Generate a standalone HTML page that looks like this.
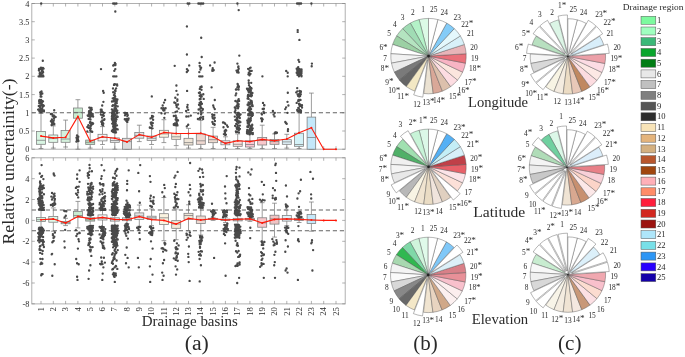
<!DOCTYPE html>
<html><head><meta charset="utf-8"><title>Figure</title>
<style>html,body{margin:0;padding:0;background:#fff;font-family:"Liberation Serif",serif}svg{display:block;will-change:transform;transform:translateZ(0)}</style></head>
<body>
<svg width="685" height="357" viewBox="0 0 685 357">
<rect width="685" height="357" fill="#fff"/>
<rect x="31.8" y="3.5" width="313.4" height="145.7" fill="none" stroke="#a8a8a8" stroke-width="0.9"/>
<text transform="translate(29.4 152.3) scale(1.15 1)" font-size="7.2" text-anchor="end" fill="#2a2a2a" font-family="Liberation Serif, serif">0</text>
<text transform="translate(29.4 134.1) scale(1.15 1)" font-size="7.2" text-anchor="end" fill="#2a2a2a" font-family="Liberation Serif, serif">0.5</text>
<text transform="translate(29.4 115.9) scale(1.15 1)" font-size="7.2" text-anchor="end" fill="#2a2a2a" font-family="Liberation Serif, serif">1</text>
<text transform="translate(29.4 97.6) scale(1.15 1)" font-size="7.2" text-anchor="end" fill="#2a2a2a" font-family="Liberation Serif, serif">1.5</text>
<text transform="translate(29.4 79.4) scale(1.15 1)" font-size="7.2" text-anchor="end" fill="#2a2a2a" font-family="Liberation Serif, serif">2</text>
<text transform="translate(29.4 61.2) scale(1.15 1)" font-size="7.2" text-anchor="end" fill="#2a2a2a" font-family="Liberation Serif, serif">2.5</text>
<text transform="translate(29.4 43.0) scale(1.15 1)" font-size="7.2" text-anchor="end" fill="#2a2a2a" font-family="Liberation Serif, serif">3</text>
<text transform="translate(29.4 24.8) scale(1.15 1)" font-size="7.2" text-anchor="end" fill="#2a2a2a" font-family="Liberation Serif, serif">3.5</text>
<text transform="translate(29.4 6.6) scale(1.15 1)" font-size="7.2" text-anchor="end" fill="#2a2a2a" font-family="Liberation Serif, serif">4</text>
<path d="M41.0 149.2v-3M41.0 3.5v3M53.3 149.2v-3M53.3 3.5v3M65.6 149.2v-3M65.6 3.5v3M77.9 149.2v-3M77.9 3.5v3M90.2 149.2v-3M90.2 3.5v3M102.5 149.2v-3M102.5 3.5v3M114.8 149.2v-3M114.8 3.5v3M127.0 149.2v-3M127.0 3.5v3M139.3 149.2v-3M139.3 3.5v3M151.6 149.2v-3M151.6 3.5v3M163.9 149.2v-3M163.9 3.5v3M176.2 149.2v-3M176.2 3.5v3M188.5 149.2v-3M188.5 3.5v3M200.8 149.2v-3M200.8 3.5v3M213.1 149.2v-3M213.1 3.5v3M225.4 149.2v-3M225.4 3.5v3M237.7 149.2v-3M237.7 3.5v3M249.9 149.2v-3M249.9 3.5v3M262.2 149.2v-3M262.2 3.5v3M274.5 149.2v-3M274.5 3.5v3M286.8 149.2v-3M286.8 3.5v3M299.1 149.2v-3M299.1 3.5v3M311.4 149.2v-3M311.4 3.5v3M323.7 149.2v-3M323.7 3.5v3M336.0 149.2v-3M336.0 3.5v3M31.8 149.2h3M345.2 149.2h-3M31.8 131.0h3M345.2 131.0h-3M31.8 112.8h3M345.2 112.8h-3M31.8 94.6h3M345.2 94.6h-3M31.8 76.3h3M345.2 76.3h-3M31.8 58.1h3M345.2 58.1h-3M31.8 39.9h3M345.2 39.9h-3M31.8 21.7h3M345.2 21.7h-3M31.8 3.5h3M345.2 3.5h-3" stroke="#7d7d7d" stroke-width="0.6" fill="none"/>
<g stroke="#7c7c7c" stroke-width="0.75" fill="none">
<path d="M41.0 113.5V131.4M41.0 144.3V148.5M38.6 113.5h4.8M38.6 148.5h4.8"/>
<rect x="36.5" y="131.4" width="9.0" height="12.9" fill="#d8f5e2"/>
<path d="M36.5 140.3h9.0"/>
</g>
<g stroke="#7c7c7c" stroke-width="0.75" fill="none">
<path d="M53.3 125.9V135.0M53.3 142.3V148.1M50.9 125.9h4.8M50.9 148.1h4.8"/>
<rect x="48.8" y="135.0" width="9.0" height="7.3" fill="#e0f8e8"/>
<path d="M48.8 138.6h9.0"/>
</g>
<g stroke="#7c7c7c" stroke-width="0.75" fill="none">
<path d="M65.6 120.1V130.6M65.6 142.3V147.0M63.2 120.1h4.8M63.2 147.0h4.8"/>
<rect x="61.1" y="130.6" width="9.0" height="11.7" fill="#d4f0dc"/>
<path d="M61.1 139.0h9.0"/>
</g>
<g stroke="#7c7c7c" stroke-width="0.75" fill="none">
<path d="M77.9 99.7V108.0M77.9 118.2V149.2M75.5 99.7h4.8M75.5 149.2h4.8"/>
<rect x="73.4" y="108.0" width="9.0" height="10.2" fill="#c8ecd0"/>
<path d="M73.4 112.4h9.0"/>
</g>
<g stroke="#7c7c7c" stroke-width="0.75" fill="none">
<path d="M90.2 132.4V140.1M90.2 144.5V148.1M87.8 132.4h4.8M87.8 148.1h4.8"/>
<rect x="85.7" y="140.1" width="9.0" height="4.4" fill="#c0e0c4"/>
<path d="M85.7 142.3h9.0"/>
</g>
<g stroke="#7c7c7c" stroke-width="0.75" fill="none">
<path d="M102.5 126.6V134.3M102.5 140.8V144.5M100.1 126.6h4.8M100.1 144.5h4.8"/>
<rect x="98.0" y="134.3" width="9.0" height="6.6" fill="#f4f4f4"/>
<path d="M98.0 137.5h9.0"/>
</g>
<g stroke="#7c7c7c" stroke-width="0.75" fill="none">
<path d="M114.8 132.4V137.9M114.8 142.3V149.2M112.4 132.4h4.8M112.4 149.2h4.8"/>
<rect x="110.3" y="137.9" width="9.0" height="4.4" fill="#ebebeb"/>
<path d="M110.3 140.5h9.0"/>
</g>
<g stroke="#7c7c7c" stroke-width="0.75" fill="none">
<path d="M127.0 120.1V138.3M127.0 149.2V149.2M124.6 120.1h4.8M124.6 149.2h4.8"/>
<rect x="122.5" y="138.3" width="9.0" height="10.9" fill="#dcdcdc"/>
<path d="M122.5 141.6h9.0"/>
</g>
<g stroke="#7c7c7c" stroke-width="0.75" fill="none">
<path d="M139.3 125.2V132.4M139.3 138.3V141.6M136.9 125.2h4.8M136.9 141.6h4.8"/>
<rect x="134.8" y="132.4" width="9.0" height="5.8" fill="#e4e4e4"/>
<path d="M134.8 135.4h9.0"/>
</g>
<g stroke="#7c7c7c" stroke-width="0.75" fill="none">
<path d="M151.6 128.4V136.1M151.6 140.5V144.5M149.2 128.4h4.8M149.2 144.5h4.8"/>
<rect x="147.1" y="136.1" width="9.0" height="4.4" fill="#e6e6e6"/>
<path d="M147.1 138.3h9.0"/>
</g>
<g stroke="#7c7c7c" stroke-width="0.75" fill="none">
<path d="M163.9 119.7V130.3M163.9 137.2V142.6M161.5 119.7h4.8M161.5 142.6h4.8"/>
<rect x="159.4" y="130.3" width="9.0" height="6.9" fill="#faf3e0"/>
<path d="M159.4 133.9h9.0"/>
</g>
<g stroke="#7c7c7c" stroke-width="0.75" fill="none">
<path d="M176.2 124.8V133.5M176.2 139.4V145.6M173.8 124.8h4.8M173.8 145.6h4.8"/>
<rect x="171.7" y="133.5" width="9.0" height="5.8" fill="#f5e8d8"/>
<path d="M171.7 136.8h9.0"/>
</g>
<g stroke="#7c7c7c" stroke-width="0.75" fill="none">
<path d="M188.5 128.4V138.3M188.5 145.0V148.1M186.1 128.4h4.8M186.1 148.1h4.8"/>
<rect x="184.0" y="138.3" width="9.0" height="6.7" fill="#f0e6d8"/>
<path d="M184.0 142.6h9.0"/>
</g>
<g stroke="#7c7c7c" stroke-width="0.75" fill="none">
<path d="M200.8 120.4V133.9M200.8 144.3V148.5M198.4 120.4h4.8M198.4 148.5h4.8"/>
<rect x="196.3" y="133.9" width="9.0" height="10.4" fill="#eed8d0"/>
<path d="M196.3 140.8h9.0"/>
</g>
<g stroke="#7c7c7c" stroke-width="0.75" fill="none">
<path d="M213.1 127.3V136.1M213.1 142.6V148.5M210.7 127.3h4.8M210.7 148.5h4.8"/>
<rect x="208.6" y="136.1" width="9.0" height="6.6" fill="#eedad0"/>
<path d="M208.6 139.7h9.0"/>
</g>
<g stroke="#7c7c7c" stroke-width="0.75" fill="none">
<path d="M225.4 136.8V140.8M225.4 144.8V148.5M223.0 136.8h4.8M223.0 148.5h4.8"/>
<rect x="220.9" y="140.8" width="9.0" height="4.0" fill="#fde8ec"/>
<path d="M220.9 142.6h9.0"/>
</g>
<g stroke="#7c7c7c" stroke-width="0.75" fill="none">
<path d="M237.7 133.9V140.8M237.7 146.3V148.5M235.3 133.9h4.8M235.3 148.5h4.8"/>
<rect x="233.2" y="140.8" width="9.0" height="5.5" fill="#fde0dc"/>
<path d="M233.2 144.3h9.0"/>
</g>
<g stroke="#7c7c7c" stroke-width="0.75" fill="none">
<path d="M249.9 134.6V140.8M249.9 147.0V148.5M247.5 134.6h4.8M247.5 148.5h4.8"/>
<rect x="245.4" y="140.8" width="9.0" height="6.2" fill="#fbc8d4"/>
<path d="M245.4 144.5h9.0"/>
</g>
<g stroke="#7c7c7c" stroke-width="0.75" fill="none">
<path d="M262.2 125.2V137.5M262.2 145.0V148.5M259.8 125.2h4.8M259.8 148.5h4.8"/>
<rect x="257.7" y="137.5" width="9.0" height="7.5" fill="#f8c8cc"/>
<path d="M257.7 140.5h9.0"/>
</g>
<g stroke="#7c7c7c" stroke-width="0.75" fill="none">
<path d="M274.5 133.9V139.4M274.5 144.3V148.5M272.1 133.9h4.8M272.1 148.5h4.8"/>
<rect x="270.0" y="139.4" width="9.0" height="4.9" fill="#f0c4c4"/>
<path d="M270.0 141.6h9.0"/>
</g>
<g stroke="#7c7c7c" stroke-width="0.75" fill="none">
<path d="M286.8 134.3V139.7M286.8 144.3V148.1M284.4 134.3h4.8M284.4 148.1h4.8"/>
<rect x="282.3" y="139.7" width="9.0" height="4.6" fill="#e0f2fa"/>
<path d="M282.3 141.9h9.0"/>
</g>
<g stroke="#7c7c7c" stroke-width="0.75" fill="none">
<path d="M299.1 112.8V133.2M299.1 146.3V148.5M296.7 112.8h4.8M296.7 148.5h4.8"/>
<rect x="294.6" y="133.2" width="9.0" height="13.1" fill="#d4f2f8"/>
<path d="M294.6 144.5h9.0"/>
</g>
<g stroke="#7c7c7c" stroke-width="0.75" fill="none">
<path d="M311.4 93.1V117.1M311.4 149.2V149.2M309.0 93.1h4.8M309.0 149.2h4.8"/>
<rect x="307.1" y="117.1" width="8.6" height="32.1" fill="#c4e8fa"/>
<path d="M307.1 137.5h8.6"/>
</g>
<path d="M31.8 112.8H345.2" stroke="#636363" stroke-width="1.1" stroke-dasharray="4.2 2.8" fill="none"/>
<path d="M39.4 111.3h.01M41.4 110.5h.01M39.8 102.8h.01M40.1 106.1h.01M40.4 109.3h.01M42.6 107.1h.01M41.0 112.2h.01M40.0 105.3h.01M42.6 111.2h.01M43.3 106.1h.01M42.6 104.8h.01M41.0 110.5h.01M43.2 111.4h.01M39.1 101.0h.01M38.8 109.8h.01M43.3 105.8h.01M42.7 110.3h.01M42.0 105.2h.01M43.9 110.5h.01M40.7 101.3h.01M38.7 109.4h.01M42.4 110.8h.01M42.2 109.0h.01M42.0 108.6h.01M43.9 111.4h.01M43.8 105.7h.01M40.0 110.7h.01M43.0 101.3h.01M41.5 103.3h.01M39.2 102.9h.01M40.0 106.2h.01M39.6 101.6h.01M42.9 106.3h.01M41.3 100.4h.01M42.2 102.1h.01M40.1 107.2h.01M39.4 110.9h.01M41.2 105.1h.01M40.8 109.9h.01M38.1 109.6h.01M38.8 106.0h.01M42.5 101.2h.01M40.6 96.6h.01M41.1 99.8h.01M41.4 96.6h.01M40.2 92.5h.01M40.6 94.7h.01M39.5 99.8h.01M42.0 93.6h.01M40.7 94.7h.01M42.3 93.5h.01M41.5 91.5h.01M38.9 70.4h.01M43.0 75.3h.01M39.0 69.0h.01M39.9 72.7h.01M43.6 68.6h.01M42.9 67.8h.01M42.3 73.0h.01M42.9 71.4h.01M39.7 73.6h.01M40.6 73.9h.01M43.1 72.2h.01M41.7 67.8h.01M41.8 71.1h.01M39.9 74.6h.01M40.8 68.2h.01M39.6 68.9h.01M41.2 74.7h.01M42.3 69.6h.01M41.0 67.7h.01M41.5 73.3h.01M39.7 75.4h.01M41.3 68.9h.01M40.6 73.1h.01M41.6 69.4h.01M42.8 60.7h.01M41.2 3.5h.01M38.6 76.3h.01M40.2 76.3h.01M41.8 76.3h.01M43.4 76.3h.01M52.4 124.5h.01M51.6 125.0h.01M53.1 121.4h.01M54.3 123.9h.01M54.1 118.6h.01M53.3 122.1h.01M51.9 119.3h.01M55.6 116.9h.01M53.3 115.7h.01M53.4 121.1h.01M54.1 116.9h.01M52.7 115.7h.01M50.9 121.2h.01M52.3 122.8h.01M53.7 120.6h.01M51.9 113.9h.01M53.7 124.4h.01M51.1 121.3h.01M52.7 116.3h.01M50.9 114.0h.01M53.7 115.3h.01M54.2 116.2h.01M52.1 123.0h.01M53.5 116.2h.01M54.2 110.2h.01M78.4 141.0h.01M76.4 141.6h.01M78.3 136.7h.01M78.0 139.1h.01M76.5 137.7h.01M76.9 139.8h.01M77.7 139.9h.01M77.7 139.4h.01M77.0 135.5h.01M88.7 118.9h.01M90.2 107.8h.01M90.1 128.6h.01M93.1 123.5h.01M91.1 125.6h.01M90.7 128.5h.01M90.2 130.5h.01M92.0 123.0h.01M88.3 127.5h.01M90.5 119.4h.01M92.7 114.0h.01M88.4 125.1h.01M89.6 113.1h.01M90.8 131.1h.01M87.7 115.3h.01M90.4 116.0h.01M90.9 110.7h.01M89.0 111.2h.01M91.0 116.3h.01M91.3 115.3h.01M90.4 116.8h.01M90.3 110.2h.01M92.6 115.1h.01M87.9 115.7h.01M90.9 116.3h.01M89.3 107.6h.01M90.2 117.1h.01M88.9 127.9h.01M88.7 118.8h.01M90.4 113.7h.01M90.3 110.4h.01M92.2 131.7h.01M90.2 122.0h.01M87.3 131.5h.01M91.4 123.0h.01M91.3 113.4h.01M93.1 116.5h.01M89.0 116.1h.01M91.1 112.8h.01M91.8 109.6h.01M90.7 122.6h.01M89.2 113.0h.01M89.9 122.8h.01M92.6 124.1h.01M88.8 114.5h.01M89.1 114.4h.01M91.5 107.9h.01M87.4 127.0h.01M91.1 124.1h.01M90.4 126.2h.01M103.8 113.0h.01M103.3 123.6h.01M102.8 123.0h.01M104.4 119.2h.01M102.5 114.9h.01M101.1 111.9h.01M102.1 123.1h.01M103.3 115.1h.01M102.5 122.5h.01M102.1 117.5h.01M102.3 120.5h.01M103.0 124.9h.01M102.0 124.4h.01M104.2 119.7h.01M103.0 125.3h.01M102.2 123.5h.01M100.9 114.6h.01M100.5 112.3h.01M101.3 121.7h.01M102.1 111.4h.01M100.8 109.7h.01M102.4 111.9h.01M103.8 115.8h.01M101.6 109.7h.01M102.2 105.5h.01M103.4 101.8h.01M103.7 92.7h.01M103.1 90.9h.01M101.0 69.1h.01M111.9 116.7h.01M112.2 123.6h.01M116.8 103.0h.01M114.2 99.0h.01M113.9 127.9h.01M115.2 129.3h.01M113.0 105.1h.01M112.7 120.8h.01M115.7 109.1h.01M117.3 110.6h.01M111.9 118.6h.01M114.3 109.7h.01M115.1 128.2h.01M115.1 121.9h.01M115.5 125.0h.01M117.1 112.6h.01M114.7 126.1h.01M115.6 99.2h.01M112.0 119.4h.01M115.7 123.2h.01M114.7 98.9h.01M111.9 109.4h.01M114.8 131.4h.01M115.7 131.8h.01M113.8 111.5h.01M113.7 113.6h.01M114.4 109.5h.01M115.5 122.7h.01M112.7 114.6h.01M115.0 111.1h.01M113.9 124.4h.01M116.0 108.5h.01M113.4 124.4h.01M113.9 112.7h.01M115.3 110.4h.01M114.3 124.5h.01M112.7 129.6h.01M114.1 122.2h.01M115.6 109.2h.01M116.8 101.1h.01M117.2 113.3h.01M113.3 132.1h.01M113.2 120.5h.01M115.9 121.1h.01M115.1 126.7h.01M115.9 118.0h.01M115.3 115.6h.01M115.1 101.1h.01M115.1 118.3h.01M115.7 129.7h.01M114.9 98.9h.01M114.8 109.5h.01M112.0 101.5h.01M114.5 108.2h.01M114.6 105.6h.01M115.7 111.1h.01M114.2 131.3h.01M114.7 110.1h.01M116.2 119.7h.01M115.5 128.1h.01M117.7 116.8h.01M115.5 103.5h.01M114.4 129.6h.01M112.9 119.7h.01M113.7 118.1h.01M117.5 116.9h.01M114.1 115.0h.01M115.8 110.5h.01M112.4 105.9h.01M115.6 132.2h.01M114.1 131.5h.01M114.7 130.4h.01M117.7 106.3h.01M114.9 118.7h.01M115.3 107.5h.01M114.4 126.8h.01M115.0 125.2h.01M117.4 99.4h.01M115.1 123.6h.01M113.8 100.6h.01M112.8 123.6h.01M112.7 98.3h.01M115.3 126.6h.01M117.0 125.3h.01M116.4 128.9h.01M115.3 115.4h.01M113.2 126.7h.01M112.1 115.2h.01M114.0 127.1h.01M113.9 113.4h.01M115.2 118.9h.01M116.9 112.5h.01M115.2 104.5h.01M114.6 99.3h.01M112.9 111.0h.01M113.8 116.7h.01M114.6 113.7h.01M116.2 110.0h.01M111.9 131.0h.01M114.5 128.7h.01M113.5 125.2h.01M113.7 123.4h.01M113.0 112.0h.01M115.8 119.0h.01M117.3 116.5h.01M113.0 111.3h.01M114.0 112.9h.01M114.3 128.6h.01M112.4 112.0h.01M113.6 110.4h.01M115.4 114.3h.01M115.3 114.4h.01M115.3 103.3h.01M115.5 115.4h.01M116.0 105.6h.01M113.4 101.2h.01M113.6 120.8h.01M115.7 98.8h.01M112.1 113.2h.01M116.5 119.3h.01M113.8 112.0h.01M114.8 132.3h.01M113.0 121.8h.01M114.5 129.3h.01M112.8 114.4h.01M113.2 126.2h.01M115.8 132.5h.01M117.7 129.4h.01M113.8 128.7h.01M114.0 120.6h.01M114.0 84.9h.01M117.2 85.5h.01M113.9 97.9h.01M114.8 93.1h.01M115.7 84.4h.01M113.0 88.4h.01M114.8 95.3h.01M114.4 84.1h.01M116.1 88.4h.01M115.5 90.9h.01M113.2 92.2h.01M117.1 84.3h.01M115.0 90.4h.01M115.2 96.6h.01M113.9 95.1h.01M113.2 76.3h.01M114.8 76.3h.01M116.4 76.3h.01M113.9 65.0h.01M115.4 65.0h.01M113.2 65.5h.01M115.3 69.1h.01M114.9 62.8h.01M115.5 64.0h.01M114.3 70.8h.01M115.3 11.5h.01M113.2 3.5h.01M114.8 3.5h.01M116.4 3.5h.01M126.1 113.7h.01M127.2 113.2h.01M126.4 121.0h.01M127.3 116.1h.01M127.8 115.1h.01M125.3 113.0h.01M128.2 119.4h.01M127.2 119.1h.01M124.8 119.2h.01M124.6 112.8h.01M125.0 115.2h.01M126.9 113.1h.01M126.5 119.0h.01M127.3 121.9h.01M128.6 118.5h.01M127.9 119.7h.01M152.2 125.7h.01M152.8 123.1h.01M149.8 127.5h.01M151.3 122.3h.01M151.4 128.0h.01M152.5 123.0h.01M151.3 124.2h.01M152.1 122.9h.01M152.3 128.3h.01M150.8 122.7h.01M151.4 123.2h.01M153.1 116.5h.01M152.0 116.0h.01M153.1 119.7h.01M150.5 118.4h.01M152.0 117.6h.01M151.8 96.4h.01M161.5 113.3h.01M163.4 108.2h.01M161.5 108.3h.01M163.6 108.3h.01M164.0 109.9h.01M164.3 117.8h.01M161.5 108.1h.01M164.8 113.6h.01M163.5 110.6h.01M164.4 110.4h.01M165.6 108.2h.01M163.2 110.1h.01M162.7 105.5h.01M164.0 102.6h.01M165.1 100.0h.01M178.6 108.6h.01M176.6 105.1h.01M175.0 123.3h.01M175.6 111.8h.01M177.5 119.9h.01M173.8 124.7h.01M178.0 104.5h.01M176.9 123.9h.01M176.3 105.1h.01M176.4 120.1h.01M173.8 116.0h.01M175.6 103.1h.01M176.6 121.5h.01M176.2 125.4h.01M175.7 115.6h.01M176.2 117.4h.01M176.8 123.2h.01M177.1 111.4h.01M176.7 107.0h.01M177.4 125.4h.01M173.8 124.2h.01M175.7 119.5h.01M176.4 117.8h.01M178.0 120.4h.01M174.3 102.5h.01M174.2 125.1h.01M177.3 100.8h.01M176.4 85.5h.01M177.4 99.4h.01M177.7 94.6h.01M176.4 90.8h.01M175.3 97.7h.01M174.7 65.8h.01M188.2 124.7h.01M187.2 106.9h.01M188.4 116.4h.01M188.2 109.8h.01M186.8 126.4h.01M186.3 116.5h.01M187.6 104.8h.01M187.4 107.5h.01M186.1 111.0h.01M190.8 115.6h.01M187.1 90.9h.01M186.8 72.0h.01M188.0 70.5h.01M186.9 69.1h.01M189.2 65.4h.01M186.9 54.5h.01M186.9 26.4h.01M187.7 3.5h.01M189.3 3.5h.01M199.7 99.2h.01M200.8 111.3h.01M198.2 113.3h.01M200.9 101.8h.01M202.5 110.2h.01M201.4 113.3h.01M199.8 88.9h.01M201.6 87.0h.01M201.7 96.6h.01M201.0 117.5h.01M199.6 103.0h.01M200.7 94.5h.01M202.9 109.1h.01M200.8 96.7h.01M199.9 92.3h.01M201.3 107.8h.01M199.0 104.8h.01M201.3 95.5h.01M200.0 117.8h.01M200.6 103.6h.01M201.9 103.7h.01M199.6 109.4h.01M200.2 119.0h.01M200.6 106.1h.01M201.5 89.8h.01M203.3 94.2h.01M198.6 109.5h.01M197.9 119.1h.01M198.9 92.8h.01M201.5 86.5h.01M203.1 118.9h.01M200.0 105.0h.01M203.1 116.8h.01M203.7 98.9h.01M200.6 98.9h.01M201.1 114.4h.01M199.8 118.4h.01M197.9 118.9h.01M200.5 108.2h.01M199.7 95.7h.01M200.3 87.1h.01M200.5 106.5h.01M199.2 76.3h.01M200.8 76.3h.01M202.4 76.3h.01M200.4 67.6h.01M201.1 67.7h.01M199.3 72.1h.01M199.7 65.8h.01M200.8 67.8h.01M200.4 69.6h.01M199.6 62.9h.01M201.7 57.0h.01M201.2 37.7h.01M198.4 3.5h.01M200.0 3.5h.01M201.6 3.5h.01M203.2 3.5h.01M214.5 124.7h.01M212.6 115.4h.01M214.7 124.4h.01M212.4 122.0h.01M214.9 121.0h.01M214.0 123.8h.01M212.2 114.3h.01M212.4 116.8h.01M213.3 118.3h.01M212.8 118.3h.01M213.0 123.7h.01M214.7 117.7h.01M214.3 115.0h.01M214.1 118.8h.01M214.8 109.1h.01M213.8 107.3h.01M213.2 105.5h.01M214.8 100.0h.01M211.6 87.3h.01M213.7 70.1h.01M212.7 68.2h.01M213.3 70.5h.01M212.4 69.9h.01M212.3 70.7h.01M210.1 65.4h.01M214.6 62.5h.01M227.0 125.4h.01M224.7 131.5h.01M225.0 123.3h.01M223.5 127.2h.01M223.9 134.1h.01M227.8 126.8h.01M225.3 135.1h.01M225.9 134.6h.01M226.2 130.6h.01M224.8 130.6h.01M225.2 123.8h.01M225.7 130.0h.01M223.9 122.6h.01M225.0 132.9h.01M223.0 122.5h.01M235.4 120.0h.01M237.1 117.4h.01M237.5 114.5h.01M237.6 106.8h.01M238.6 104.2h.01M236.7 127.4h.01M238.7 112.9h.01M239.7 115.2h.01M235.9 119.9h.01M238.2 104.6h.01M237.9 113.0h.01M237.6 102.9h.01M237.8 127.1h.01M234.8 107.5h.01M234.8 111.9h.01M235.9 131.3h.01M239.0 116.4h.01M238.5 121.5h.01M236.6 106.0h.01M238.6 122.7h.01M237.4 102.3h.01M239.9 128.8h.01M238.7 129.9h.01M235.1 125.8h.01M239.8 125.6h.01M236.1 132.1h.01M237.4 102.0h.01M239.5 121.3h.01M238.0 108.3h.01M239.8 118.0h.01M237.2 115.2h.01M237.6 125.1h.01M236.8 114.4h.01M237.0 118.1h.01M238.6 106.5h.01M237.1 121.4h.01M236.9 128.7h.01M240.4 122.1h.01M239.0 113.5h.01M238.9 132.4h.01M235.4 110.2h.01M236.9 105.5h.01M236.2 123.8h.01M240.6 114.3h.01M238.9 128.0h.01M237.3 131.8h.01M237.9 122.6h.01M237.8 127.3h.01M239.1 129.7h.01M234.8 116.6h.01M235.3 112.6h.01M237.4 119.8h.01M237.4 129.0h.01M235.7 108.3h.01M237.9 117.4h.01M237.8 100.5h.01M235.6 95.3h.01M239.1 100.9h.01M238.7 99.1h.01M235.4 101.0h.01M237.4 87.4h.01M236.2 93.4h.01M237.8 86.7h.01M238.6 87.8h.01M237.8 84.5h.01M238.9 86.4h.01M237.6 83.9h.01M236.4 89.6h.01M238.6 89.6h.01M235.9 89.5h.01M237.2 72.2h.01M238.6 72.6h.01M238.2 71.8h.01M238.7 68.7h.01M238.0 70.2h.01M238.2 67.0h.01M238.4 66.7h.01M236.5 70.6h.01M237.7 70.7h.01M238.4 66.3h.01M237.4 63.6h.01M239.3 55.6h.01M238.7 10.1h.01M237.4 3.5h.01M249.7 111.0h.01M248.6 123.8h.01M248.0 110.0h.01M249.6 111.1h.01M248.7 125.8h.01M251.5 88.4h.01M248.2 115.0h.01M250.6 118.5h.01M249.5 95.7h.01M251.7 101.2h.01M250.4 106.6h.01M248.8 92.3h.01M252.4 93.0h.01M247.0 131.9h.01M250.8 131.8h.01M247.0 88.7h.01M249.1 130.8h.01M249.7 113.8h.01M247.3 129.8h.01M247.0 133.3h.01M252.0 115.9h.01M248.0 90.4h.01M249.5 119.9h.01M250.8 120.4h.01M247.8 123.4h.01M252.1 129.9h.01M252.3 105.2h.01M248.1 126.9h.01M250.0 130.5h.01M247.4 133.5h.01M252.2 125.0h.01M251.6 127.4h.01M251.4 94.7h.01M248.7 108.5h.01M251.4 113.1h.01M250.6 91.9h.01M251.8 128.7h.01M249.5 115.4h.01M252.8 115.0h.01M248.4 88.9h.01M248.6 118.4h.01M247.5 126.9h.01M249.8 125.6h.01M252.8 113.3h.01M250.6 95.7h.01M250.0 121.5h.01M249.6 111.6h.01M249.2 122.1h.01M248.0 104.6h.01M248.6 102.4h.01M250.8 133.3h.01M250.8 90.3h.01M251.2 96.3h.01M247.6 104.7h.01M249.7 129.6h.01M251.1 127.5h.01M251.1 87.8h.01M252.2 125.3h.01M248.9 109.9h.01M249.3 121.2h.01M247.7 122.3h.01M247.1 131.1h.01M249.1 124.0h.01M252.7 106.1h.01M249.5 120.3h.01M248.4 105.3h.01M250.7 111.6h.01M249.8 104.1h.01M252.8 134.1h.01M248.6 132.1h.01M251.5 115.5h.01M252.8 132.9h.01M247.8 96.1h.01M250.4 128.7h.01M247.9 120.2h.01M251.7 126.5h.01M252.3 105.0h.01M247.4 126.5h.01M248.0 90.2h.01M252.2 112.7h.01M250.8 91.1h.01M251.8 102.2h.01M249.8 107.2h.01M250.4 106.9h.01M248.6 98.8h.01M251.9 103.0h.01M252.0 104.8h.01M250.7 94.0h.01M250.5 100.3h.01M248.9 91.7h.01M249.6 133.9h.01M251.2 101.6h.01M250.2 89.1h.01M249.9 128.4h.01M249.6 134.2h.01M252.7 128.3h.01M249.9 120.4h.01M248.4 121.6h.01M248.3 115.3h.01M251.3 126.2h.01M249.8 111.7h.01M251.1 109.1h.01M248.9 110.6h.01M248.3 88.6h.01M250.8 118.0h.01M248.9 89.0h.01M247.6 98.5h.01M247.3 120.5h.01M250.7 118.8h.01M250.0 108.4h.01M250.7 102.4h.01M248.1 97.0h.01M248.4 113.8h.01M252.2 124.7h.01M249.7 91.2h.01M248.1 94.8h.01M249.1 108.1h.01M249.8 109.8h.01M251.9 95.5h.01M251.7 126.1h.01M249.0 85.2h.01M250.1 86.9h.01M251.2 82.8h.01M248.7 80.5h.01M248.8 82.9h.01M250.1 67.8h.01M248.8 72.6h.01M250.4 71.1h.01M249.8 74.5h.01M250.6 67.6h.01M249.7 70.7h.01M248.4 74.3h.01M249.5 75.3h.01M250.5 73.8h.01M249.6 70.4h.01M248.1 68.8h.01M251.7 70.8h.01M264.1 113.0h.01M261.9 118.5h.01M262.7 108.9h.01M264.1 105.2h.01M261.9 121.2h.01M263.9 108.7h.01M263.0 102.9h.01M262.7 119.3h.01M263.6 111.7h.01M261.1 118.3h.01M264.4 105.2h.01M261.9 114.4h.01M261.5 113.5h.01M261.9 119.4h.01M262.4 76.3h.01M274.7 133.2h.01M275.3 132.3h.01M276.9 132.7h.01M275.9 132.9h.01M275.7 132.6h.01M275.9 132.4h.01M274.5 116.4h.01M274.8 112.8h.01M272.9 111.0h.01M273.6 114.6h.01M287.9 131.0h.01M288.0 129.2h.01M286.7 123.7h.01M285.9 123.0h.01M285.3 121.9h.01M287.5 112.8h.01M285.2 109.1h.01M286.1 107.3h.01M288.4 105.5h.01M287.5 101.8h.01M287.8 92.7h.01M287.7 76.3h.01M287.7 72.7h.01M286.2 70.9h.01M299.9 110.7h.01M299.1 96.5h.01M296.7 102.9h.01M300.1 104.3h.01M296.2 92.3h.01M299.7 100.0h.01M299.9 91.6h.01M297.2 88.1h.01M299.6 91.0h.01M298.2 100.9h.01M300.8 94.2h.01M297.3 91.3h.01M300.1 96.1h.01M299.9 94.8h.01M299.1 103.6h.01M300.6 110.1h.01M298.8 96.1h.01M300.9 91.3h.01M297.6 94.3h.01M297.6 110.9h.01M298.5 99.9h.01M298.7 108.1h.01M299.1 104.4h.01M300.4 92.1h.01M297.2 109.9h.01M300.5 99.9h.01M299.4 94.5h.01M298.0 95.8h.01M302.0 107.5h.01M300.3 110.1h.01M299.2 100.5h.01M299.3 93.8h.01M298.7 111.6h.01M302.0 105.2h.01M299.8 106.0h.01M300.2 110.9h.01M300.8 91.9h.01M300.8 112.4h.01M298.3 107.8h.01M301.0 105.9h.01M301.0 110.9h.01M298.8 108.5h.01M298.6 71.9h.01M298.6 72.8h.01M300.9 73.5h.01M299.6 70.6h.01M301.5 75.5h.01M299.2 69.0h.01M299.6 69.6h.01M297.7 68.9h.01M297.9 73.4h.01M301.5 69.3h.01M301.5 71.5h.01M298.5 74.3h.01M298.9 76.3h.01M299.5 73.3h.01M298.0 69.9h.01M301.5 76.3h.01M298.9 70.8h.01M299.7 74.0h.01M298.4 69.6h.01M301.0 75.0h.01M297.2 72.5h.01M300.3 74.4h.01M298.3 72.9h.01M300.0 71.8h.01M296.7 72.7h.01M297.9 69.7h.01M298.5 72.5h.01M298.4 72.0h.01M301.5 73.0h.01M299.2 74.9h.01M297.3 72.5h.01M298.9 71.7h.01M297.8 68.4h.01M297.3 70.6h.01M301.5 69.6h.01M301.5 70.2h.01M299.6 69.1h.01M297.4 74.8h.01M297.4 73.0h.01M298.7 73.7h.01M296.7 68.7h.01M300.3 75.1h.01M297.9 70.8h.01M298.5 72.8h.01M299.3 72.7h.01M299.8 73.8h.01M298.9 75.1h.01M299.2 70.7h.01M298.2 67.2h.01M299.2 61.8h.01M298.5 60.0h.01M299.4 39.9h.01M297.7 31.9h.01M297.7 30.1h.01M297.1 3.5h.01M298.1 3.5h.01M299.1 3.5h.01M300.1 3.5h.01M301.1 3.5h.01M311.7 66.2h.01M311.9 63.6h.01M311.4 3.5h.01" stroke="#3f3f3f" stroke-opacity="0.95" stroke-width="2.35" stroke-linecap="round" fill="none"/>
<polyline points="41.0,136.1 53.3,137.9 65.6,137.2 77.9,116.4 90.2,141.2 102.5,136.8 114.8,138.3 127.0,141.9 139.3,134.6 151.6,137.2 163.9,132.4 176.2,133.5 188.5,133.5 200.8,133.2 213.1,136.8 225.4,143.4 237.7,140.8 249.9,141.6 262.2,139.4 274.5,140.8 286.8,139.0 299.1,132.8 311.4,127.7 323.7,149.2 336.0,149.2" fill="none" stroke="#ff1a0a" stroke-width="1.1" stroke-linejoin="round"/>
<path d="M41.0 136.1h.01M53.3 137.9h.01M65.6 137.2h.01M77.9 116.4h.01M90.2 141.2h.01M102.5 136.8h.01M114.8 138.3h.01M127.0 141.9h.01M139.3 134.6h.01M151.6 137.2h.01M163.9 132.4h.01M176.2 133.5h.01M188.5 133.5h.01M200.8 133.2h.01M213.1 136.8h.01M225.4 143.4h.01M237.7 140.8h.01M249.9 141.6h.01M262.2 139.4h.01M274.5 140.8h.01M286.8 139.0h.01M299.1 132.8h.01M311.4 127.7h.01M323.7 149.2h.01M336.0 149.2h.01" stroke="#ff1a0a" stroke-width="2" stroke-linecap="round"/>
<rect x="31.8" y="157.8" width="313.4" height="146.1" fill="none" stroke="#a8a8a8" stroke-width="0.9"/>
<text transform="translate(29.4 306.9) scale(1.15 1)" font-size="7.2" text-anchor="end" fill="#2a2a2a" font-family="Liberation Serif, serif">-8</text>
<text transform="translate(29.4 286.1) scale(1.15 1)" font-size="7.2" text-anchor="end" fill="#2a2a2a" font-family="Liberation Serif, serif">-6</text>
<text transform="translate(29.4 265.2) scale(1.15 1)" font-size="7.2" text-anchor="end" fill="#2a2a2a" font-family="Liberation Serif, serif">-4</text>
<text transform="translate(29.4 244.3) scale(1.15 1)" font-size="7.2" text-anchor="end" fill="#2a2a2a" font-family="Liberation Serif, serif">-2</text>
<text transform="translate(29.4 223.5) scale(1.15 1)" font-size="7.2" text-anchor="end" fill="#2a2a2a" font-family="Liberation Serif, serif">0</text>
<text transform="translate(29.4 202.6) scale(1.15 1)" font-size="7.2" text-anchor="end" fill="#2a2a2a" font-family="Liberation Serif, serif">2</text>
<text transform="translate(29.4 181.8) scale(1.15 1)" font-size="7.2" text-anchor="end" fill="#2a2a2a" font-family="Liberation Serif, serif">4</text>
<text transform="translate(29.4 160.9) scale(1.15 1)" font-size="7.2" text-anchor="end" fill="#2a2a2a" font-family="Liberation Serif, serif">6</text>
<path d="M41.0 303.9v-3M41.0 157.8v3M53.3 303.9v-3M53.3 157.8v3M65.6 303.9v-3M65.6 157.8v3M77.9 303.9v-3M77.9 157.8v3M90.2 303.9v-3M90.2 157.8v3M102.5 303.9v-3M102.5 157.8v3M114.8 303.9v-3M114.8 157.8v3M127.0 303.9v-3M127.0 157.8v3M139.3 303.9v-3M139.3 157.8v3M151.6 303.9v-3M151.6 157.8v3M163.9 303.9v-3M163.9 157.8v3M176.2 303.9v-3M176.2 157.8v3M188.5 303.9v-3M188.5 157.8v3M200.8 303.9v-3M200.8 157.8v3M213.1 303.9v-3M213.1 157.8v3M225.4 303.9v-3M225.4 157.8v3M237.7 303.9v-3M237.7 157.8v3M249.9 303.9v-3M249.9 157.8v3M262.2 303.9v-3M262.2 157.8v3M274.5 303.9v-3M274.5 157.8v3M286.8 303.9v-3M286.8 157.8v3M299.1 303.9v-3M299.1 157.8v3M311.4 303.9v-3M311.4 157.8v3M323.7 303.9v-3M323.7 157.8v3M336.0 303.9v-3M336.0 157.8v3M31.8 303.8h3M345.2 303.8h-3M31.8 283.0h3M345.2 283.0h-3M31.8 262.1h3M345.2 262.1h-3M31.8 241.3h3M345.2 241.3h-3M31.8 220.4h3M345.2 220.4h-3M31.8 199.5h3M345.2 199.5h-3M31.8 178.7h3M345.2 178.7h-3M31.8 157.8h3M345.2 157.8h-3" stroke="#7d7d7d" stroke-width="0.6" fill="none"/>
<g stroke="#7c7c7c" stroke-width="0.75" fill="none">
<path d="M41.0 210.4V217.6M41.0 221.5V227.7M38.6 210.4h4.8M38.6 227.7h4.8"/>
<rect x="36.5" y="217.6" width="9.0" height="4.0" fill="#d8f5e2"/>
<path d="M36.5 219.6h9.0"/>
</g>
<g stroke="#7c7c7c" stroke-width="0.75" fill="none">
<path d="M53.3 207.9V216.4M53.3 222.3V231.2M50.9 207.9h4.8M50.9 231.2h4.8"/>
<rect x="48.8" y="216.4" width="9.0" height="5.8" fill="#e0f8e8"/>
<path d="M48.8 219.4h9.0"/>
</g>
<g stroke="#7c7c7c" stroke-width="0.75" fill="none">
<path d="M65.6 218.3V221.5M65.6 223.8V225.6M63.2 218.3h4.8M63.2 225.6h4.8"/>
<rect x="61.1" y="221.5" width="9.0" height="2.3" fill="#d4f0dc"/>
<path d="M61.1 222.7h9.0"/>
</g>
<g stroke="#7c7c7c" stroke-width="0.75" fill="none">
<path d="M77.9 201.4V211.5M77.9 217.4V227.9M75.5 201.4h4.8M75.5 227.9h4.8"/>
<rect x="73.4" y="211.5" width="9.0" height="5.8" fill="#c8ecd0"/>
<path d="M73.4 215.5h9.0"/>
</g>
<g stroke="#7c7c7c" stroke-width="0.75" fill="none">
<path d="M90.2 215.2V217.8M90.2 221.1V225.6M87.8 215.2h4.8M87.8 225.6h4.8"/>
<rect x="85.7" y="217.8" width="9.0" height="3.3" fill="#c0e0c4"/>
<path d="M85.7 219.8h9.0"/>
</g>
<g stroke="#7c7c7c" stroke-width="0.75" fill="none">
<path d="M102.5 207.9V214.9M102.5 220.0V226.7M100.1 207.9h4.8M100.1 226.7h4.8"/>
<rect x="98.0" y="214.9" width="9.0" height="5.1" fill="#f4f4f4"/>
<path d="M98.0 218.3h9.0"/>
</g>
<g stroke="#7c7c7c" stroke-width="0.75" fill="none">
<path d="M114.8 215.2V217.8M114.8 221.1V225.6M112.4 215.2h4.8M112.4 225.6h4.8"/>
<rect x="110.3" y="217.8" width="9.0" height="3.3" fill="#ebebeb"/>
<path d="M110.3 219.6h9.0"/>
</g>
<g stroke="#7c7c7c" stroke-width="0.75" fill="none">
<path d="M127.0 215.2V217.8M127.0 220.7V223.5M124.6 215.2h4.8M124.6 223.5h4.8"/>
<rect x="122.5" y="217.8" width="9.0" height="2.9" fill="#dcdcdc"/>
<path d="M122.5 219.4h9.0"/>
</g>
<g stroke="#7c7c7c" stroke-width="0.75" fill="none">
<path d="M139.3 205.0V212.9M139.3 219.4V226.3M136.9 205.0h4.8M136.9 226.3h4.8"/>
<rect x="134.8" y="212.9" width="9.0" height="6.5" fill="#e4e4e4"/>
<path d="M134.8 216.0h9.0"/>
</g>
<g stroke="#7c7c7c" stroke-width="0.75" fill="none">
<path d="M151.6 208.9V216.2M151.6 219.4V225.6M149.2 208.9h4.8M149.2 225.6h4.8"/>
<rect x="147.1" y="216.2" width="9.0" height="3.1" fill="#e6e6e6"/>
<path d="M147.1 217.8h9.0"/>
</g>
<g stroke="#7c7c7c" stroke-width="0.75" fill="none">
<path d="M163.9 197.5V213.7M163.9 224.6V240.7M161.5 197.5h4.8M161.5 240.7h4.8"/>
<rect x="159.4" y="213.7" width="9.0" height="10.8" fill="#faf3e0"/>
<path d="M159.4 217.8h9.0"/>
</g>
<g stroke="#7c7c7c" stroke-width="0.75" fill="none">
<path d="M176.2 208.9V220.7M176.2 228.3V239.7M173.8 208.9h4.8M173.8 239.7h4.8"/>
<rect x="171.7" y="220.7" width="9.0" height="7.6" fill="#f5e8d8"/>
<path d="M171.7 224.1h9.0"/>
</g>
<g stroke="#7c7c7c" stroke-width="0.75" fill="none">
<path d="M188.5 204.8V213.3M188.5 219.4V230.8M186.1 204.8h4.8M186.1 230.8h4.8"/>
<rect x="184.0" y="213.3" width="9.0" height="6.0" fill="#f0e6d8"/>
<path d="M184.0 215.5h9.0"/>
</g>
<g stroke="#7c7c7c" stroke-width="0.75" fill="none">
<path d="M200.8 207.9V216.0M200.8 223.4V235.0M198.4 207.9h4.8M198.4 235.0h4.8"/>
<rect x="196.3" y="216.0" width="9.0" height="7.4" fill="#eed8d0"/>
<path d="M196.3 220.0h9.0"/>
</g>
<g stroke="#7c7c7c" stroke-width="0.75" fill="none">
<path d="M213.1 217.3V218.3M213.1 219.6V220.4M210.7 217.3h4.8M210.7 220.4h4.8"/>
<rect x="208.6" y="218.3" width="9.0" height="1.3" fill="#eedad0"/>
<path d="M208.6 218.9h9.0"/>
</g>
<g stroke="#7c7c7c" stroke-width="0.75" fill="none">
<path d="M225.4 217.3V219.1M225.4 220.6V222.5M223.0 217.3h4.8M223.0 222.5h4.8"/>
<rect x="220.9" y="219.1" width="9.0" height="1.5" fill="#fde8ec"/>
<path d="M220.9 219.9h9.0"/>
</g>
<g stroke="#7c7c7c" stroke-width="0.75" fill="none">
<path d="M237.7 215.2V218.3M237.7 220.9V224.6M235.3 215.2h4.8M235.3 224.6h4.8"/>
<rect x="233.2" y="218.3" width="9.0" height="2.6" fill="#fde0dc"/>
<path d="M233.2 219.9h9.0"/>
</g>
<g stroke="#7c7c7c" stroke-width="0.75" fill="none">
<path d="M249.9 216.7V218.3M249.9 220.1V221.4M247.5 216.7h4.8M247.5 221.4h4.8"/>
<rect x="245.4" y="218.3" width="9.0" height="1.8" fill="#fbc8d4"/>
<path d="M245.4 219.4h9.0"/>
</g>
<g stroke="#7c7c7c" stroke-width="0.75" fill="none">
<path d="M262.2 202.7V217.8M262.2 227.2V241.3M259.8 202.7h4.8M259.8 241.3h4.8"/>
<rect x="257.7" y="217.8" width="9.0" height="9.4" fill="#f8c8cc"/>
<path d="M257.7 222.9h9.0"/>
</g>
<g stroke="#7c7c7c" stroke-width="0.75" fill="none">
<path d="M274.5 203.2V215.2M274.5 224.1V237.1M272.1 203.2h4.8M272.1 237.1h4.8"/>
<rect x="270.0" y="215.2" width="9.0" height="8.9" fill="#f0c4c4"/>
<path d="M270.0 218.9h9.0"/>
</g>
<g stroke="#7c7c7c" stroke-width="0.75" fill="none">
<path d="M286.8 210.0V215.5M286.8 221.1V225.6M284.4 210.0h4.8M284.4 225.6h4.8"/>
<rect x="282.3" y="215.5" width="9.0" height="5.6" fill="#e0f2fa"/>
<path d="M282.3 218.9h9.0"/>
</g>
<g stroke="#7c7c7c" stroke-width="0.75" fill="none">
<path d="M299.1 217.3V218.3M299.1 220.6V222.5M296.7 217.3h4.8M296.7 222.5h4.8"/>
<rect x="294.6" y="218.3" width="9.0" height="2.3" fill="#d4f2f8"/>
<path d="M294.6 219.4h9.0"/>
</g>
<g stroke="#7c7c7c" stroke-width="0.75" fill="none">
<path d="M311.4 202.0V214.5M311.4 223.4V231.2M309.0 202.0h4.8M309.0 231.2h4.8"/>
<rect x="307.1" y="214.5" width="8.6" height="9.0" fill="#c4e8fa"/>
<path d="M307.1 220.0h8.6"/>
</g>
<path d="M31.8 210.0H345.2" stroke="#636363" stroke-width="1.1" stroke-dasharray="4.2 2.8" fill="none"/>
<path d="M31.8 230.8H345.2" stroke="#636363" stroke-width="1.1" stroke-dasharray="4.2 2.8" fill="none"/>
<path d="M42.3 197.9h.01M43.4 185.3h.01M42.8 202.3h.01M40.2 198.0h.01M41.1 202.8h.01M42.1 196.2h.01M40.3 198.4h.01M41.2 196.2h.01M42.4 201.9h.01M39.6 202.3h.01M43.9 209.9h.01M42.1 186.2h.01M42.4 208.0h.01M39.0 209.5h.01M40.7 183.9h.01M43.9 209.9h.01M39.7 200.5h.01M41.3 197.2h.01M38.8 202.7h.01M40.8 201.0h.01M40.8 196.0h.01M39.0 188.3h.01M42.4 186.8h.01M38.9 203.7h.01M41.5 197.9h.01M39.8 194.8h.01M40.5 189.6h.01M40.5 207.7h.01M43.8 207.6h.01M40.5 187.3h.01M41.5 209.8h.01M41.3 205.4h.01M43.9 188.1h.01M40.6 209.4h.01M42.3 197.7h.01M39.7 191.0h.01M40.0 205.6h.01M41.4 205.5h.01M38.6 201.1h.01M39.3 191.4h.01M39.1 198.1h.01M39.7 193.1h.01M40.4 185.0h.01M40.0 194.6h.01M43.7 209.7h.01M43.3 187.7h.01M39.9 186.4h.01M40.8 193.6h.01M40.4 204.2h.01M39.9 205.8h.01M42.7 203.1h.01M42.1 189.2h.01M41.9 204.0h.01M41.1 200.6h.01M41.9 209.9h.01M40.4 206.9h.01M41.0 201.3h.01M42.0 192.4h.01M42.7 207.6h.01M40.7 205.4h.01M40.8 197.8h.01M38.6 203.3h.01M39.7 197.2h.01M40.1 204.3h.01M38.1 199.0h.01M41.4 207.8h.01M43.3 209.0h.01M42.0 204.4h.01M42.1 200.4h.01M39.8 194.3h.01M43.9 194.2h.01M40.0 191.2h.01M39.8 200.8h.01M43.6 204.9h.01M39.8 208.9h.01M41.5 204.1h.01M39.3 204.9h.01M41.3 205.1h.01M42.0 208.0h.01M38.9 201.4h.01M40.2 199.9h.01M41.9 205.9h.01M40.5 204.8h.01M39.6 189.8h.01M40.8 203.0h.01M41.3 176.9h.01M42.1 175.8h.01M40.0 182.7h.01M41.2 176.6h.01M43.4 179.1h.01M40.1 181.3h.01M39.8 173.5h.01M41.6 165.1h.01M43.8 241.7h.01M40.4 236.8h.01M39.0 239.7h.01M42.7 240.8h.01M40.8 236.3h.01M41.4 230.7h.01M39.0 228.6h.01M40.6 229.2h.01M39.0 234.4h.01M43.0 242.6h.01M42.1 230.5h.01M43.3 245.0h.01M43.9 230.6h.01M41.5 235.9h.01M42.0 241.1h.01M39.7 240.0h.01M41.3 227.7h.01M43.1 236.9h.01M39.8 229.0h.01M41.6 232.9h.01M42.4 244.6h.01M40.0 239.9h.01M40.4 228.8h.01M39.7 233.6h.01M42.7 230.3h.01M40.2 236.1h.01M40.2 239.6h.01M43.7 230.3h.01M43.1 232.7h.01M41.3 233.7h.01M40.3 232.6h.01M41.1 231.9h.01M40.2 230.7h.01M38.9 238.4h.01M40.3 234.8h.01M42.9 230.5h.01M41.4 240.7h.01M40.6 229.2h.01M41.0 228.6h.01M41.1 235.8h.01M39.9 236.5h.01M43.1 229.1h.01M41.4 228.2h.01M41.9 227.7h.01M39.9 235.0h.01M42.9 239.9h.01M38.1 233.1h.01M43.9 247.0h.01M39.9 246.5h.01M39.4 242.3h.01M40.5 228.1h.01M40.2 228.2h.01M38.5 236.8h.01M41.9 234.2h.01M40.9 228.3h.01M39.5 227.7h.01M39.0 228.1h.01M43.1 230.3h.01M40.4 245.9h.01M40.1 231.3h.01M39.5 231.6h.01M41.1 240.8h.01M40.5 237.0h.01M41.5 240.4h.01M42.4 231.4h.01M40.2 235.7h.01M41.3 232.5h.01M38.1 240.4h.01M40.8 232.3h.01M38.9 229.2h.01M40.3 258.8h.01M42.5 259.0h.01M41.3 262.6h.01M42.7 250.9h.01M40.6 249.9h.01M40.5 264.1h.01M40.1 252.8h.01M42.2 253.7h.01M40.8 263.9h.01M39.5 249.8h.01M39.6 249.0h.01M42.2 263.5h.01M42.6 274.1h.01M41.7 274.1h.01M41.7 274.4h.01M41.2 275.2h.01M50.9 205.0h.01M52.4 204.3h.01M54.5 193.6h.01M53.7 194.4h.01M51.3 196.6h.01M54.3 204.9h.01M52.9 205.8h.01M54.6 200.5h.01M53.5 197.4h.01M52.9 204.4h.01M52.0 199.5h.01M53.4 197.5h.01M54.9 199.0h.01M53.0 204.0h.01M54.5 202.6h.01M52.0 192.9h.01M54.6 196.0h.01M55.2 204.0h.01M54.5 175.6h.01M53.8 174.5h.01M53.7 173.5h.01M52.3 242.2h.01M53.2 241.2h.01M52.9 235.3h.01M53.5 237.9h.01M54.3 236.7h.01M54.9 232.5h.01M53.7 240.8h.01M52.9 234.1h.01M52.1 253.8h.01M51.7 254.3h.01M54.7 264.2h.01M52.3 275.7h.01M64.6 211.0h.01M64.2 210.8h.01M66.3 211.2h.01M65.8 215.7h.01M64.6 217.3h.01M65.1 229.8h.01M64.4 241.3h.01M64.7 247.5h.01M78.2 197.4h.01M77.2 194.9h.01M75.9 187.9h.01M77.9 190.1h.01M78.7 186.6h.01M76.7 187.0h.01M78.1 192.3h.01M76.0 193.6h.01M79.6 181.8h.01M77.1 178.7h.01M77.2 174.5h.01M79.6 170.3h.01M79.3 232.7h.01M77.3 233.9h.01M75.9 230.1h.01M79.7 233.1h.01M76.4 236.0h.01M78.5 239.2h.01M79.0 241.3h.01M77.9 248.6h.01M76.2 259.0h.01M77.1 263.2h.01M78.7 264.2h.01M77.1 276.7h.01M77.5 279.9h.01M89.8 203.0h.01M87.3 191.8h.01M92.3 213.2h.01M91.8 192.4h.01M90.2 199.1h.01M90.5 185.5h.01M91.2 215.1h.01M91.0 207.8h.01M89.5 214.5h.01M88.4 203.7h.01M90.7 203.7h.01M91.7 208.8h.01M87.9 198.9h.01M90.7 214.9h.01M90.7 213.8h.01M90.7 188.5h.01M91.1 208.1h.01M89.8 187.3h.01M89.2 204.1h.01M90.7 213.5h.01M91.6 209.2h.01M89.4 209.4h.01M91.3 213.6h.01M91.6 182.9h.01M89.8 197.5h.01M93.1 211.5h.01M89.8 190.1h.01M89.1 207.7h.01M90.1 193.7h.01M89.6 213.4h.01M89.9 192.9h.01M88.1 200.2h.01M92.6 208.5h.01M91.8 196.7h.01M88.0 214.6h.01M90.5 207.6h.01M87.5 199.7h.01M90.6 214.4h.01M90.6 183.6h.01M90.1 213.5h.01M90.8 205.4h.01M91.5 205.3h.01M90.2 208.2h.01M88.1 197.3h.01M93.1 186.6h.01M90.4 208.7h.01M91.5 184.0h.01M88.5 213.5h.01M89.4 213.4h.01M89.8 193.9h.01M91.7 190.9h.01M89.7 205.1h.01M89.2 205.0h.01M88.5 212.6h.01M89.1 214.6h.01M87.3 194.5h.01M93.1 210.3h.01M93.1 204.0h.01M89.2 197.3h.01M92.8 211.1h.01M91.2 194.2h.01M90.1 193.0h.01M88.7 188.8h.01M91.4 204.3h.01M88.3 187.5h.01M89.9 210.8h.01M87.9 214.7h.01M88.6 214.1h.01M91.3 215.2h.01M88.1 215.0h.01M91.3 187.5h.01M90.9 198.6h.01M88.8 214.8h.01M90.8 197.4h.01M93.1 208.0h.01M91.5 194.2h.01M89.6 200.4h.01M88.4 194.4h.01M91.0 214.8h.01M88.0 183.8h.01M89.1 200.8h.01M88.7 211.0h.01M90.9 208.2h.01M90.2 215.2h.01M93.1 214.8h.01M90.4 206.3h.01M88.1 198.1h.01M92.0 213.2h.01M90.6 204.0h.01M89.2 209.1h.01M87.3 193.6h.01M91.5 199.3h.01M89.0 190.9h.01M93.1 188.8h.01M87.5 210.2h.01M88.3 214.7h.01M89.6 210.4h.01M90.8 211.8h.01M89.7 215.2h.01M92.5 192.4h.01M89.7 168.2h.01M89.4 171.6h.01M87.8 175.7h.01M89.0 175.1h.01M87.8 173.2h.01M89.5 165.0h.01M89.0 174.9h.01M91.9 171.2h.01M88.6 177.8h.01M89.6 227.3h.01M92.7 227.2h.01M88.7 226.8h.01M90.7 229.0h.01M91.1 229.7h.01M90.1 233.2h.01M91.6 233.6h.01M88.5 228.4h.01M89.8 229.3h.01M90.3 230.8h.01M90.8 234.8h.01M89.9 226.7h.01M90.1 234.3h.01M87.3 228.2h.01M90.3 226.5h.01M91.6 232.5h.01M93.0 225.8h.01M88.3 233.9h.01M89.5 226.2h.01M90.8 230.7h.01M90.7 231.0h.01M90.7 226.4h.01M92.3 229.1h.01M90.9 235.2h.01M91.0 229.0h.01M90.7 226.8h.01M92.8 230.9h.01M92.3 234.4h.01M89.4 229.4h.01M92.0 226.9h.01M90.3 232.4h.01M89.8 230.9h.01M89.0 233.6h.01M87.3 227.0h.01M91.0 232.2h.01M89.7 231.8h.01M91.3 225.8h.01M91.8 228.1h.01M90.4 226.2h.01M91.1 228.3h.01M91.7 231.2h.01M91.2 227.4h.01M88.3 229.2h.01M89.8 228.4h.01M90.0 230.2h.01M92.9 226.1h.01M91.3 230.0h.01M91.5 228.2h.01M92.9 227.8h.01M90.1 233.9h.01M90.0 242.7h.01M90.8 249.9h.01M89.5 242.8h.01M89.3 240.6h.01M91.0 247.2h.01M88.3 245.1h.01M90.6 239.2h.01M88.8 243.2h.01M90.4 251.4h.01M89.7 249.8h.01M90.2 246.7h.01M92.6 247.1h.01M89.3 238.6h.01M90.3 238.3h.01M88.9 244.6h.01M90.3 250.9h.01M91.3 255.9h.01M90.4 265.2h.01M89.1 270.5h.01M88.6 278.8h.01M105.1 208.9h.01M100.9 191.8h.01M102.1 209.7h.01M101.9 191.6h.01M102.9 202.0h.01M100.4 210.0h.01M100.7 204.6h.01M104.5 198.6h.01M103.2 209.3h.01M105.4 209.8h.01M104.7 192.8h.01M102.8 202.1h.01M102.4 194.1h.01M102.6 184.1h.01M103.5 209.1h.01M99.8 202.8h.01M101.0 207.8h.01M104.6 209.9h.01M101.2 205.9h.01M105.1 196.5h.01M99.6 194.4h.01M102.6 201.9h.01M103.5 209.9h.01M103.8 205.9h.01M104.5 198.3h.01M99.6 208.3h.01M104.6 203.6h.01M101.9 206.4h.01M102.6 209.5h.01M102.7 206.3h.01M103.4 184.2h.01M103.4 185.6h.01M103.7 209.5h.01M102.4 203.8h.01M100.9 191.8h.01M102.5 203.3h.01M101.3 199.6h.01M99.9 203.3h.01M102.9 205.0h.01M100.5 184.4h.01M102.4 206.5h.01M101.0 206.2h.01M103.9 197.2h.01M105.0 200.9h.01M104.1 201.6h.01M99.9 183.2h.01M102.7 198.3h.01M102.6 208.3h.01M99.6 204.4h.01M102.4 191.1h.01M104.6 209.6h.01M101.4 200.9h.01M101.3 206.2h.01M105.0 196.3h.01M100.0 190.2h.01M100.6 208.8h.01M101.5 209.7h.01M102.5 198.1h.01M102.6 203.8h.01M101.8 207.4h.01M102.5 189.1h.01M101.4 209.7h.01M101.2 178.7h.01M101.7 176.1h.01M104.2 170.3h.01M101.6 165.1h.01M103.3 234.6h.01M105.3 232.9h.01M104.1 234.2h.01M102.4 228.2h.01M103.3 232.8h.01M103.5 231.7h.01M102.6 227.2h.01M103.8 227.4h.01M101.2 230.8h.01M101.8 227.1h.01M103.4 237.0h.01M102.0 226.8h.01M102.3 235.4h.01M99.6 234.4h.01M103.0 235.0h.01M104.9 235.0h.01M103.6 235.5h.01M103.0 229.7h.01M104.0 236.1h.01M101.5 226.8h.01M104.5 232.0h.01M102.6 226.9h.01M104.7 232.6h.01M104.8 231.9h.01M101.3 230.3h.01M101.7 226.9h.01M102.2 228.6h.01M100.5 227.8h.01M105.3 229.1h.01M101.5 228.1h.01M101.9 228.1h.01M102.8 228.3h.01M102.1 230.5h.01M102.6 234.1h.01M102.4 231.0h.01M102.2 229.2h.01M102.7 229.3h.01M101.1 228.1h.01M101.7 236.5h.01M99.6 226.8h.01M102.9 247.8h.01M102.8 245.7h.01M102.3 238.3h.01M103.3 245.7h.01M100.6 241.5h.01M103.9 247.4h.01M104.4 248.5h.01M100.7 237.9h.01M103.3 242.6h.01M103.3 239.2h.01M102.1 243.6h.01M102.0 242.7h.01M100.1 263.8h.01M102.5 264.1h.01M101.8 261.4h.01M101.8 263.7h.01M100.9 264.3h.01M103.9 257.7h.01M101.2 257.5h.01M103.4 267.3h.01M104.9 262.6h.01M102.7 273.6h.01M102.3 279.9h.01M111.9 206.9h.01M115.8 214.3h.01M113.4 201.6h.01M113.2 209.7h.01M115.7 186.6h.01M117.1 183.5h.01M116.6 198.5h.01M117.4 207.7h.01M115.3 212.0h.01M115.9 204.3h.01M114.2 212.5h.01M115.0 214.3h.01M113.6 213.3h.01M117.1 203.7h.01M111.9 210.4h.01M112.8 183.9h.01M116.1 195.0h.01M117.7 185.8h.01M116.6 184.4h.01M114.0 209.5h.01M115.3 200.6h.01M114.2 205.1h.01M115.6 193.6h.01M112.3 199.2h.01M112.6 213.8h.01M117.0 199.1h.01M114.2 205.7h.01M115.2 201.0h.01M114.8 189.2h.01M114.8 193.8h.01M113.9 205.2h.01M114.3 203.7h.01M115.7 214.8h.01M112.9 207.7h.01M115.4 203.7h.01M113.1 183.1h.01M112.5 212.5h.01M112.6 215.1h.01M115.5 211.8h.01M116.0 186.0h.01M115.3 201.3h.01M115.7 202.0h.01M117.7 189.9h.01M115.9 211.0h.01M114.6 205.3h.01M115.7 185.4h.01M113.0 212.8h.01M111.9 196.1h.01M115.5 190.6h.01M114.6 210.5h.01M114.1 213.1h.01M114.5 206.9h.01M117.7 210.1h.01M115.1 191.2h.01M114.7 185.3h.01M116.2 209.0h.01M115.6 210.9h.01M116.0 212.0h.01M113.8 204.2h.01M111.9 198.8h.01M113.0 196.8h.01M115.9 209.9h.01M115.9 209.0h.01M113.0 189.1h.01M115.3 194.8h.01M115.8 200.3h.01M112.8 195.5h.01M111.9 191.5h.01M115.9 197.4h.01M113.4 209.6h.01M115.5 204.0h.01M117.4 199.9h.01M113.8 192.7h.01M113.8 194.2h.01M113.6 204.4h.01M116.3 192.5h.01M115.8 184.3h.01M116.2 211.9h.01M114.1 213.3h.01M115.2 214.1h.01M115.7 196.7h.01M113.0 193.5h.01M112.1 214.3h.01M115.1 187.4h.01M113.8 203.5h.01M112.5 211.8h.01M113.8 214.7h.01M112.3 192.8h.01M115.7 207.2h.01M114.9 189.1h.01M112.8 185.5h.01M115.0 203.1h.01M116.4 210.5h.01M111.9 204.2h.01M112.7 206.6h.01M112.7 192.6h.01M115.3 203.4h.01M115.3 207.4h.01M113.0 197.1h.01M114.3 209.2h.01M116.2 199.1h.01M117.7 210.5h.01M116.6 187.6h.01M117.2 208.5h.01M117.0 207.9h.01M114.7 212.5h.01M113.2 193.9h.01M115.1 212.8h.01M113.6 189.9h.01M114.9 197.5h.01M115.8 204.6h.01M116.0 193.5h.01M117.7 187.8h.01M115.0 213.6h.01M114.4 184.6h.01M113.8 211.5h.01M117.7 211.4h.01M113.3 214.0h.01M116.8 192.5h.01M113.8 210.4h.01M116.8 208.3h.01M114.6 213.8h.01M115.5 208.0h.01M114.7 214.9h.01M113.5 208.8h.01M112.6 189.7h.01M114.6 195.3h.01M111.9 207.9h.01M113.0 214.4h.01M115.3 214.7h.01M117.7 189.6h.01M115.2 194.9h.01M113.6 211.1h.01M115.5 202.5h.01M113.3 194.9h.01M114.7 193.7h.01M116.4 206.9h.01M112.9 214.6h.01M115.2 186.2h.01M114.9 214.8h.01M115.9 195.8h.01M113.4 184.2h.01M115.2 206.7h.01M116.4 201.4h.01M114.3 209.5h.01M114.3 210.5h.01M115.7 190.7h.01M114.4 209.6h.01M114.1 204.5h.01M113.8 196.8h.01M115.5 200.3h.01M114.1 184.6h.01M112.3 209.6h.01M114.1 193.7h.01M115.3 214.8h.01M117.7 198.2h.01M114.7 214.5h.01M117.1 198.2h.01M115.2 192.8h.01M113.6 182.9h.01M114.6 205.7h.01M114.4 211.6h.01M112.5 193.9h.01M115.1 211.3h.01M115.1 204.0h.01M114.6 207.8h.01M114.4 214.0h.01M115.5 205.8h.01M114.9 208.1h.01M113.9 211.5h.01M117.2 212.7h.01M116.9 189.5h.01M114.3 210.7h.01M114.3 189.8h.01M115.8 192.1h.01M115.6 171.4h.01M117.2 169.0h.01M115.0 178.6h.01M116.5 175.7h.01M116.1 170.6h.01M114.3 181.8h.01M113.0 177.7h.01M114.9 178.1h.01M114.9 173.6h.01M116.6 233.3h.01M113.5 234.8h.01M114.5 232.6h.01M113.7 239.9h.01M115.9 230.3h.01M115.3 235.0h.01M114.4 242.5h.01M117.0 235.4h.01M117.2 226.1h.01M112.8 241.1h.01M111.9 226.8h.01M117.2 226.0h.01M115.8 227.8h.01M114.4 227.6h.01M114.1 243.7h.01M111.9 238.2h.01M114.6 230.6h.01M111.9 225.8h.01M114.8 226.2h.01M116.4 241.6h.01M116.7 239.2h.01M115.2 235.1h.01M116.2 226.0h.01M116.3 236.9h.01M111.9 230.1h.01M114.4 235.7h.01M115.2 225.6h.01M112.7 230.7h.01M115.4 241.4h.01M113.3 235.2h.01M116.8 242.8h.01M116.8 234.8h.01M114.6 245.9h.01M116.9 244.5h.01M115.0 231.2h.01M112.9 234.2h.01M116.7 230.4h.01M113.9 231.8h.01M112.5 241.0h.01M117.7 231.6h.01M117.6 230.3h.01M111.9 226.1h.01M112.9 229.0h.01M116.0 247.4h.01M114.2 243.8h.01M113.7 226.8h.01M115.0 235.7h.01M116.4 226.2h.01M114.4 231.2h.01M115.2 228.3h.01M111.9 241.8h.01M114.6 241.5h.01M113.5 231.0h.01M114.2 225.7h.01M114.6 225.7h.01M114.7 233.9h.01M116.0 242.2h.01M114.3 238.3h.01M113.7 237.0h.01M117.7 239.5h.01M116.9 243.7h.01M117.7 228.5h.01M113.7 228.4h.01M117.4 245.6h.01M114.1 239.7h.01M112.7 225.7h.01M114.5 230.4h.01M114.7 237.0h.01M114.2 231.0h.01M113.0 232.0h.01M111.9 234.1h.01M114.4 238.4h.01M113.8 230.7h.01M116.5 232.3h.01M114.8 239.7h.01M114.4 237.4h.01M113.8 228.3h.01M112.8 227.9h.01M114.9 225.9h.01M116.0 243.0h.01M117.7 231.2h.01M116.3 233.0h.01M114.9 234.0h.01M111.9 233.8h.01M114.7 229.5h.01M117.7 225.7h.01M114.5 234.0h.01M114.1 242.8h.01M113.3 227.4h.01M112.9 229.3h.01M115.5 230.3h.01M115.6 235.9h.01M115.9 242.7h.01M115.5 230.4h.01M113.2 242.1h.01M114.2 226.2h.01M116.0 234.6h.01M114.6 243.9h.01M113.9 244.7h.01M115.0 225.8h.01M115.4 245.4h.01M113.4 235.9h.01M114.5 230.7h.01M115.7 225.6h.01M115.7 239.9h.01M111.9 238.0h.01M113.1 247.3h.01M113.8 227.1h.01M113.4 244.4h.01M112.9 236.7h.01M113.0 239.3h.01M111.9 237.5h.01M114.3 236.8h.01M117.7 233.2h.01M111.9 227.9h.01M116.4 230.4h.01M114.0 227.7h.01M111.9 231.2h.01M114.9 229.1h.01M111.9 225.7h.01M115.1 232.9h.01M115.7 241.7h.01M115.7 228.2h.01M114.4 245.7h.01M114.7 242.0h.01M112.8 231.2h.01M111.9 228.6h.01M113.6 239.7h.01M114.0 230.7h.01M114.6 234.0h.01M114.3 256.8h.01M117.3 268.9h.01M112.9 274.3h.01M114.5 276.9h.01M114.6 250.5h.01M114.6 267.4h.01M112.9 263.7h.01M117.7 250.1h.01M115.2 253.8h.01M112.0 254.4h.01M113.4 274.1h.01M116.1 266.3h.01M113.6 257.9h.01M116.1 253.1h.01M111.9 262.9h.01M114.6 255.2h.01M114.4 274.0h.01M115.7 273.4h.01M115.3 251.6h.01M112.3 269.4h.01M113.0 269.0h.01M116.4 252.4h.01M115.0 249.3h.01M114.7 258.7h.01M113.1 260.1h.01M115.8 265.8h.01M115.9 275.4h.01M112.3 261.5h.01M114.0 276.2h.01M113.7 273.0h.01M112.8 253.2h.01M114.3 275.1h.01M115.1 275.0h.01M116.6 260.5h.01M114.8 281.9h.01M124.5 209.1h.01M123.9 211.6h.01M128.1 214.3h.01M129.7 210.2h.01M127.7 217.0h.01M127.7 216.3h.01M125.7 208.8h.01M126.8 213.1h.01M129.9 214.4h.01M126.6 211.9h.01M128.3 215.1h.01M127.8 216.7h.01M127.0 209.9h.01M127.1 207.6h.01M127.3 215.3h.01M125.5 206.8h.01M126.5 206.7h.01M127.6 216.8h.01M130.1 215.2h.01M126.1 208.5h.01M127.4 216.7h.01M127.4 209.3h.01M127.0 216.1h.01M126.1 213.1h.01M126.7 215.8h.01M128.1 206.5h.01M124.5 212.9h.01M126.6 205.6h.01M127.3 206.5h.01M127.6 210.5h.01M127.2 206.0h.01M127.7 204.4h.01M127.6 209.8h.01M127.2 215.6h.01M128.0 204.9h.01M126.5 212.0h.01M126.1 216.7h.01M126.9 207.8h.01M126.7 213.9h.01M126.3 217.2h.01M128.9 205.1h.01M129.3 204.9h.01M126.3 216.8h.01M129.9 205.9h.01M127.0 205.8h.01M123.9 213.6h.01M126.3 211.5h.01M127.9 216.6h.01M127.8 215.0h.01M126.0 208.8h.01M127.3 215.5h.01M125.4 206.7h.01M128.0 216.6h.01M128.7 205.7h.01M127.8 209.6h.01M127.4 217.1h.01M127.9 207.9h.01M126.1 204.6h.01M126.3 209.9h.01M124.7 206.8h.01M124.5 214.1h.01M126.6 209.4h.01M126.9 210.4h.01M125.0 214.8h.01M130.0 207.5h.01M127.2 213.1h.01M125.5 209.0h.01M126.6 212.9h.01M127.2 207.6h.01M125.6 210.6h.01M127.0 216.6h.01M126.8 217.1h.01M129.3 213.0h.01M128.6 215.7h.01M128.9 217.1h.01M127.5 202.7h.01M126.5 200.6h.01M127.0 190.2h.01M127.2 183.9h.01M127.2 180.8h.01M128.7 170.3h.01M125.4 229.5h.01M127.8 224.5h.01M128.8 228.1h.01M126.4 224.3h.01M127.1 229.9h.01M125.7 227.5h.01M126.1 229.1h.01M125.0 230.5h.01M127.5 226.5h.01M128.0 227.0h.01M128.5 226.9h.01M126.0 225.6h.01M127.0 226.9h.01M129.0 229.0h.01M126.3 228.1h.01M125.6 227.0h.01M126.5 223.7h.01M125.4 228.2h.01M124.9 225.4h.01M126.3 226.8h.01M125.3 226.7h.01M126.0 229.5h.01M125.6 233.5h.01M124.6 231.3h.01M127.9 238.6h.01M128.1 232.2h.01M126.3 235.7h.01M126.7 247.5h.01M125.3 254.8h.01M127.6 257.9h.01M126.0 263.2h.01M128.7 267.3h.01M139.8 202.7h.01M139.1 191.2h.01M138.3 172.9h.01M140.2 165.1h.01M140.0 227.1h.01M138.7 229.7h.01M138.1 228.2h.01M137.1 227.7h.01M139.0 227.0h.01M139.4 232.9h.01M139.8 239.2h.01M137.9 257.9h.01M138.8 267.3h.01M150.2 198.4h.01M152.3 201.4h.01M150.2 205.8h.01M150.7 201.1h.01M153.7 197.2h.01M150.8 195.7h.01M152.9 202.1h.01M152.0 206.7h.01M151.5 206.7h.01M153.1 203.3h.01M153.7 203.7h.01M153.3 200.7h.01M150.5 181.8h.01M149.9 176.1h.01M150.4 226.9h.01M150.9 233.8h.01M152.3 233.4h.01M150.5 234.2h.01M151.0 228.1h.01M151.6 234.7h.01M152.4 232.1h.01M149.2 232.9h.01M149.9 226.9h.01M151.6 234.1h.01M150.7 232.9h.01M151.0 226.8h.01M151.4 234.7h.01M150.4 232.1h.01M152.4 232.1h.01M153.2 228.0h.01M152.1 235.0h.01M152.3 230.9h.01M151.4 229.3h.01M152.2 232.5h.01M151.0 241.3h.01M152.6 248.6h.01M150.7 259.0h.01M149.9 266.3h.01M152.5 274.6h.01M150.2 281.9h.01M164.2 196.4h.01M162.3 192.2h.01M164.8 188.1h.01M164.2 184.9h.01M162.7 248.2h.01M164.5 243.0h.01M164.9 244.6h.01M165.3 243.7h.01M166.3 250.6h.01M163.1 251.6h.01M165.0 249.8h.01M163.3 248.7h.01M164.7 242.8h.01M161.6 248.3h.01M164.1 260.0h.01M162.9 263.2h.01M162.2 272.6h.01M163.6 275.7h.01M162.5 279.9h.01M177.6 199.0h.01M175.4 201.8h.01M177.8 206.9h.01M176.9 198.9h.01M176.1 205.1h.01M175.8 198.8h.01M174.7 207.4h.01M175.5 200.9h.01M178.4 199.1h.01M175.9 195.1h.01M174.9 197.2h.01M174.3 193.7h.01M173.8 207.6h.01M176.8 203.4h.01M176.7 195.1h.01M176.6 203.8h.01M175.1 198.8h.01M175.8 205.9h.01M177.4 192.2h.01M175.3 187.0h.01M175.9 183.9h.01M174.4 177.6h.01M175.4 175.6h.01M177.6 171.9h.01M174.4 240.5h.01M178.6 245.4h.01M176.7 256.4h.01M176.9 243.3h.01M175.5 253.2h.01M176.3 257.4h.01M173.8 258.3h.01M177.9 253.4h.01M177.7 260.7h.01M176.8 257.6h.01M175.6 247.7h.01M175.7 259.5h.01M177.5 249.0h.01M177.7 253.9h.01M176.1 247.2h.01M174.2 240.8h.01M176.2 249.3h.01M175.7 259.9h.01M175.8 252.5h.01M176.8 256.0h.01M175.6 266.3h.01M177.2 269.4h.01M176.0 274.6h.01M189.3 203.7h.01M189.2 201.6h.01M190.3 195.4h.01M188.6 192.2h.01M190.2 189.1h.01M189.8 184.9h.01M190.1 163.0h.01M190.5 235.8h.01M186.7 235.1h.01M186.6 239.8h.01M189.6 235.0h.01M187.8 237.6h.01M187.1 234.3h.01M186.5 233.7h.01M189.9 232.4h.01M188.9 246.5h.01M188.2 253.8h.01M188.4 256.9h.01M188.7 262.1h.01M189.6 280.9h.01M198.7 202.0h.01M200.4 197.4h.01M201.7 204.9h.01M200.6 205.9h.01M200.7 207.6h.01M199.2 206.8h.01M202.0 202.9h.01M198.9 198.3h.01M203.7 203.2h.01M199.7 201.0h.01M200.9 207.8h.01M199.4 199.6h.01M200.4 201.5h.01M201.8 199.4h.01M202.7 207.7h.01M201.2 197.5h.01M201.0 203.4h.01M200.1 207.3h.01M200.2 207.2h.01M200.8 202.8h.01M202.2 204.7h.01M201.6 198.2h.01M201.2 198.5h.01M200.7 197.8h.01M203.4 205.2h.01M200.8 202.4h.01M197.9 199.5h.01M199.1 204.3h.01M202.2 202.6h.01M199.1 207.4h.01M202.4 206.0h.01M201.6 205.0h.01M201.0 204.1h.01M200.1 201.3h.01M199.7 204.5h.01M200.6 199.6h.01M200.7 189.8h.01M199.3 195.3h.01M201.7 191.6h.01M200.8 186.5h.01M203.0 194.5h.01M199.2 194.6h.01M202.9 191.0h.01M199.2 193.7h.01M202.8 185.0h.01M200.4 184.0h.01M203.1 190.2h.01M201.2 185.4h.01M200.9 191.3h.01M202.7 172.7h.01M203.2 176.8h.01M200.0 177.1h.01M202.1 169.5h.01M198.4 170.8h.01M199.8 168.7h.01M199.9 244.2h.01M201.5 239.5h.01M202.4 237.4h.01M201.6 238.2h.01M201.2 241.6h.01M201.1 237.1h.01M200.7 244.0h.01M200.4 243.7h.01M199.7 244.2h.01M200.1 237.6h.01M201.9 236.4h.01M200.1 236.2h.01M200.6 240.6h.01M200.2 240.7h.01M199.3 240.8h.01M200.5 243.5h.01M199.7 242.6h.01M201.8 240.6h.01M200.9 255.5h.01M200.8 251.2h.01M200.0 247.8h.01M200.0 247.0h.01M199.2 255.0h.01M198.6 251.8h.01M201.9 251.5h.01M200.1 254.2h.01M199.6 259.0h.01M200.9 265.2h.01M199.7 281.4h.01M212.5 216.8h.01M212.1 212.1h.01M213.4 211.7h.01M212.7 213.7h.01M211.1 211.3h.01M213.3 214.9h.01M215.5 212.9h.01M213.2 215.3h.01M213.5 215.1h.01M214.3 211.0h.01M212.8 210.4h.01M214.2 214.0h.01M213.1 210.1h.01M212.9 215.0h.01M212.0 203.7h.01M214.1 257.9h.01M226.9 210.3h.01M225.3 211.2h.01M226.7 215.2h.01M226.9 212.2h.01M224.5 212.2h.01M223.8 211.5h.01M224.4 210.5h.01M225.3 210.8h.01M223.1 212.3h.01M224.8 212.8h.01M226.1 216.0h.01M225.2 215.4h.01M224.9 215.6h.01M223.0 217.3h.01M223.1 211.1h.01M226.7 211.3h.01M225.7 214.8h.01M225.1 215.2h.01M224.5 216.0h.01M226.7 211.3h.01M224.2 211.9h.01M226.9 212.2h.01M225.5 211.1h.01M223.8 214.6h.01M224.4 212.2h.01M223.3 216.4h.01M226.5 203.2h.01M225.4 198.5h.01M225.3 193.3h.01M225.0 186.5h.01M226.7 176.1h.01M223.6 228.8h.01M225.2 230.4h.01M225.1 227.4h.01M225.3 227.2h.01M227.8 229.0h.01M223.7 229.3h.01M226.9 224.3h.01M226.2 226.4h.01M225.4 227.2h.01M227.4 223.7h.01M225.6 225.3h.01M225.5 229.3h.01M225.7 227.0h.01M227.7 230.1h.01M224.3 224.8h.01M226.3 229.0h.01M227.1 225.8h.01M224.9 230.7h.01M226.4 229.3h.01M226.7 226.6h.01M227.0 228.4h.01M226.1 227.0h.01M226.4 232.1h.01M223.9 233.9h.01M225.0 235.1h.01M224.3 231.4h.01M225.1 243.3h.01M225.6 275.7h.01M239.5 211.5h.01M237.2 215.2h.01M238.8 207.7h.01M236.6 212.7h.01M237.2 211.9h.01M235.4 208.4h.01M236.9 213.1h.01M238.3 211.8h.01M238.7 214.8h.01M238.4 214.7h.01M236.5 203.5h.01M236.4 215.2h.01M236.1 211.4h.01M236.7 214.7h.01M237.5 203.7h.01M239.0 202.2h.01M239.1 201.9h.01M238.6 212.9h.01M236.7 206.1h.01M235.8 199.9h.01M239.1 210.5h.01M236.0 203.4h.01M235.0 210.8h.01M237.1 210.4h.01M239.7 214.2h.01M238.7 212.2h.01M236.9 197.5h.01M236.4 203.5h.01M240.1 214.9h.01M238.7 212.8h.01M238.2 215.1h.01M240.3 205.5h.01M235.6 200.6h.01M235.7 201.3h.01M239.8 199.9h.01M235.6 214.5h.01M236.9 209.9h.01M236.7 215.1h.01M237.8 213.2h.01M236.2 202.6h.01M236.7 206.2h.01M235.1 213.2h.01M239.8 208.1h.01M235.3 204.8h.01M240.6 205.1h.01M236.7 197.8h.01M236.3 214.1h.01M236.7 213.1h.01M235.7 212.9h.01M238.5 213.3h.01M238.5 203.6h.01M238.8 206.7h.01M236.5 206.5h.01M238.1 201.9h.01M236.3 199.8h.01M238.1 211.2h.01M236.3 201.7h.01M238.3 207.3h.01M237.0 210.5h.01M236.0 209.0h.01M238.5 213.8h.01M240.4 214.5h.01M238.7 203.2h.01M236.8 214.6h.01M235.0 211.9h.01M236.9 200.6h.01M239.6 210.9h.01M240.1 215.2h.01M234.8 202.2h.01M238.6 214.5h.01M235.9 199.4h.01M235.5 210.2h.01M236.9 213.5h.01M238.4 201.9h.01M237.2 213.7h.01M235.5 206.4h.01M238.7 208.0h.01M236.1 208.2h.01M236.7 211.1h.01M237.3 207.2h.01M237.6 213.6h.01M237.2 212.1h.01M234.8 213.5h.01M238.7 211.9h.01M240.6 214.2h.01M234.8 207.4h.01M236.5 214.1h.01M238.2 214.8h.01M237.7 206.6h.01M236.5 215.0h.01M238.3 211.0h.01M238.5 197.6h.01M239.1 211.5h.01M239.9 206.7h.01M236.4 203.8h.01M238.1 193.6h.01M236.0 186.7h.01M239.1 184.1h.01M238.9 186.3h.01M239.5 188.9h.01M236.3 194.4h.01M236.5 192.7h.01M237.6 190.9h.01M236.1 195.4h.01M236.3 194.8h.01M236.5 190.3h.01M238.5 184.8h.01M237.9 191.8h.01M237.5 184.3h.01M236.6 188.3h.01M237.9 195.8h.01M237.3 186.7h.01M239.5 184.8h.01M237.5 189.1h.01M237.6 190.3h.01M236.1 184.6h.01M237.0 185.1h.01M239.1 183.9h.01M235.3 185.4h.01M237.6 180.7h.01M236.2 169.3h.01M236.6 167.0h.01M236.2 176.9h.01M239.5 167.6h.01M235.9 172.8h.01M238.1 181.4h.01M238.2 182.3h.01M236.2 179.2h.01M239.5 176.4h.01M238.7 227.7h.01M239.9 232.8h.01M237.1 229.2h.01M236.7 237.4h.01M235.7 225.6h.01M238.3 227.6h.01M237.4 227.5h.01M236.0 235.7h.01M239.4 227.5h.01M236.8 225.5h.01M238.3 228.6h.01M240.3 226.6h.01M235.3 235.5h.01M236.7 226.8h.01M239.4 232.2h.01M237.2 229.4h.01M237.1 237.3h.01M237.9 235.9h.01M238.7 230.4h.01M236.2 228.5h.01M240.6 231.4h.01M235.3 225.8h.01M236.4 234.3h.01M237.6 234.7h.01M237.5 225.5h.01M236.8 231.7h.01M238.0 236.6h.01M238.5 236.7h.01M238.1 227.0h.01M237.4 226.8h.01M238.2 234.3h.01M234.9 234.5h.01M237.8 230.4h.01M235.7 232.9h.01M237.6 233.3h.01M238.7 228.2h.01M237.5 227.1h.01M238.3 234.5h.01M235.3 229.3h.01M235.5 228.3h.01M235.4 229.9h.01M238.0 226.3h.01M234.8 237.6h.01M235.7 227.0h.01M237.0 226.5h.01M237.7 230.0h.01M239.2 229.4h.01M236.6 224.6h.01M236.6 229.1h.01M237.8 236.3h.01M239.3 235.7h.01M238.8 234.7h.01M237.4 229.9h.01M237.0 236.7h.01M238.6 230.9h.01M237.9 236.9h.01M235.0 224.6h.01M237.9 232.4h.01M236.1 235.6h.01M238.7 228.7h.01M237.0 231.2h.01M238.7 225.0h.01M237.6 230.0h.01M236.7 231.9h.01M235.2 229.2h.01M240.6 233.1h.01M234.9 237.8h.01M238.1 225.7h.01M239.4 233.9h.01M238.1 235.5h.01M237.1 229.8h.01M238.3 232.6h.01M235.4 228.4h.01M240.2 229.6h.01M239.3 237.7h.01M238.4 225.0h.01M238.8 225.5h.01M238.2 233.7h.01M236.8 235.2h.01M235.4 225.9h.01M238.8 236.9h.01M234.9 231.2h.01M236.6 235.4h.01M237.3 232.5h.01M236.7 227.1h.01M240.1 254.7h.01M235.6 240.7h.01M237.6 265.7h.01M239.9 256.0h.01M238.8 256.9h.01M238.2 256.9h.01M239.6 264.5h.01M235.4 266.1h.01M239.0 256.2h.01M237.5 265.9h.01M237.5 263.3h.01M238.6 250.9h.01M236.6 265.2h.01M237.3 252.6h.01M236.0 251.2h.01M237.3 243.2h.01M236.8 245.2h.01M237.3 244.8h.01M239.6 262.4h.01M237.9 245.7h.01M239.1 277.8h.01M237.2 283.0h.01M252.2 210.1h.01M248.0 208.8h.01M250.8 214.6h.01M251.7 209.3h.01M248.3 214.4h.01M248.8 214.7h.01M249.1 207.4h.01M252.0 213.5h.01M250.4 208.2h.01M249.1 215.7h.01M250.5 212.2h.01M247.5 212.8h.01M250.4 210.1h.01M251.9 211.3h.01M252.8 216.6h.01M252.8 214.2h.01M249.7 208.3h.01M251.1 207.5h.01M250.1 212.5h.01M252.0 213.6h.01M251.0 217.1h.01M251.6 212.9h.01M248.3 214.1h.01M247.2 212.7h.01M249.3 209.2h.01M247.5 207.2h.01M251.9 214.5h.01M248.7 207.4h.01M250.9 212.8h.01M247.8 213.7h.01M251.3 217.2h.01M249.4 207.6h.01M251.3 212.9h.01M250.4 213.5h.01M251.1 216.1h.01M251.3 210.2h.01M249.3 214.1h.01M248.7 216.1h.01M250.2 207.7h.01M250.0 217.1h.01M248.8 214.2h.01M248.8 212.4h.01M248.6 200.3h.01M250.2 202.1h.01M252.3 203.5h.01M252.3 198.9h.01M250.6 203.8h.01M249.3 199.7h.01M250.3 195.4h.01M249.0 194.3h.01M249.0 188.1h.01M250.5 174.5h.01M248.3 172.4h.01M251.6 169.3h.01M250.3 227.7h.01M250.2 238.1h.01M264.6 200.3h.01M259.9 199.6h.01M262.7 200.0h.01M261.5 201.4h.01M261.7 200.9h.01M262.8 194.3h.01M264.0 184.9h.01M261.8 181.8h.01M263.9 254.4h.01M262.1 253.3h.01M263.0 244.9h.01M262.6 244.3h.01M262.4 258.6h.01M263.6 255.0h.01M262.7 243.2h.01M263.2 248.4h.01M261.8 244.9h.01M261.9 253.0h.01M261.5 265.4h.01M261.6 259.9h.01M263.6 263.9h.01M261.5 255.8h.01M263.3 244.8h.01M261.5 263.2h.01M261.8 264.4h.01M264.4 242.0h.01M261.1 252.1h.01M261.9 242.5h.01M261.8 241.5h.01M260.1 266.8h.01M263.8 277.8h.01M275.0 198.4h.01M272.7 198.1h.01M272.7 195.6h.01M275.8 197.8h.01M275.1 199.6h.01M275.9 199.0h.01M274.9 190.2h.01M273.0 188.1h.01M276.2 180.8h.01M276.0 172.9h.01M275.3 165.1h.01M275.8 163.6h.01M272.3 239.1h.01M273.3 241.6h.01M274.5 244.9h.01M274.7 243.4h.01M276.4 240.1h.01M276.9 243.7h.01M273.7 245.2h.01M276.9 242.1h.01M275.4 251.7h.01M274.4 254.8h.01M274.8 262.1h.01M274.2 265.2h.01M275.0 277.8h.01M286.7 205.5h.01M285.8 204.4h.01M286.4 207.6h.01M286.1 206.3h.01M287.7 206.3h.01M287.0 205.8h.01M287.0 196.4h.01M285.9 185.5h.01M286.8 226.6h.01M285.8 230.1h.01M288.2 233.8h.01M286.4 232.3h.01M285.0 227.6h.01M287.0 232.2h.01M286.4 230.4h.01M286.5 228.2h.01M288.3 227.7h.01M286.1 231.6h.01M285.6 240.2h.01M287.9 246.5h.01M285.3 251.7h.01M286.6 268.4h.01M285.6 270.5h.01M287.5 272.6h.01M298.8 214.4h.01M299.6 213.9h.01M298.6 213.5h.01M296.7 215.5h.01M300.8 212.5h.01M301.2 213.6h.01M299.3 213.3h.01M299.3 216.0h.01M299.4 211.9h.01M301.5 217.0h.01M300.3 213.5h.01M297.6 216.0h.01M297.5 212.8h.01M299.3 216.2h.01M298.7 213.4h.01M298.5 217.8h.01M300.9 217.1h.01M299.4 217.7h.01M300.4 211.9h.01M298.8 213.8h.01M299.2 213.6h.01M298.7 214.1h.01M299.0 206.8h.01M297.4 198.5h.01M298.6 193.3h.01M300.1 191.2h.01M300.9 179.7h.01M298.4 226.1h.01M298.2 239.2h.01M298.0 240.2h.01M298.9 241.3h.01M297.9 279.9h.01M311.2 198.5h.01M311.1 194.3h.01M313.0 178.7h.01M310.4 171.9h.01M312.0 240.2h.01M311.8 242.3h.01M311.3 243.3h.01M313.1 250.1h.01M312.4 270.5h.01" stroke="#3f3f3f" stroke-opacity="0.95" stroke-width="2.35" stroke-linecap="round" fill="none"/>
<polyline points="41.0,219.8 53.3,218.9 65.6,222.9 77.9,216.4 90.2,218.9 102.5,217.4 114.8,219.4 127.0,219.8 139.3,216.6 151.6,219.6 163.9,220.4 176.2,224.1 188.5,218.4 200.8,220.0 213.1,218.6 225.4,220.0 237.7,219.4 249.9,218.8 262.2,222.9 274.5,219.4 286.8,218.9 299.1,219.4 311.4,220.0 323.7,220.4 336.0,220.4" fill="none" stroke="#ff1a0a" stroke-width="1.1" stroke-linejoin="round"/>
<path d="M41.0 219.8h.01M53.3 218.9h.01M65.6 222.9h.01M77.9 216.4h.01M90.2 218.9h.01M102.5 217.4h.01M114.8 219.4h.01M127.0 219.8h.01M139.3 216.6h.01M151.6 219.6h.01M163.9 220.4h.01M176.2 224.1h.01M188.5 218.4h.01M200.8 220.0h.01M213.1 218.6h.01M225.4 220.0h.01M237.7 219.4h.01M249.9 218.8h.01M262.2 222.9h.01M274.5 219.4h.01M286.8 218.9h.01M299.1 219.4h.01M311.4 220.0h.01M323.7 220.4h.01M336.0 220.4h.01" stroke="#ff1a0a" stroke-width="2" stroke-linecap="round"/>
<text transform="translate(43.7 307.1) rotate(-90) scale(1.12 1)" font-size="7.8" text-anchor="end" fill="#2a2a2a" font-family="Liberation Serif, serif">1</text>
<text transform="translate(56.0 307.1) rotate(-90) scale(1.12 1)" font-size="7.8" text-anchor="end" fill="#2a2a2a" font-family="Liberation Serif, serif">2</text>
<text transform="translate(68.2 307.1) rotate(-90) scale(1.12 1)" font-size="7.8" text-anchor="end" fill="#2a2a2a" font-family="Liberation Serif, serif">3</text>
<text transform="translate(80.5 307.1) rotate(-90) scale(1.12 1)" font-size="7.8" text-anchor="end" fill="#2a2a2a" font-family="Liberation Serif, serif">4</text>
<text transform="translate(92.8 307.1) rotate(-90) scale(1.12 1)" font-size="7.8" text-anchor="end" fill="#2a2a2a" font-family="Liberation Serif, serif">5</text>
<text transform="translate(105.1 307.1) rotate(-90) scale(1.12 1)" font-size="7.8" text-anchor="end" fill="#2a2a2a" font-family="Liberation Serif, serif">6</text>
<text transform="translate(117.4 307.1) rotate(-90) scale(1.12 1)" font-size="7.8" text-anchor="end" fill="#2a2a2a" font-family="Liberation Serif, serif">7</text>
<text transform="translate(129.7 307.1) rotate(-90) scale(1.12 1)" font-size="7.8" text-anchor="end" fill="#2a2a2a" font-family="Liberation Serif, serif">8</text>
<text transform="translate(142.0 307.1) rotate(-90) scale(1.12 1)" font-size="7.8" text-anchor="end" fill="#2a2a2a" font-family="Liberation Serif, serif">9</text>
<text transform="translate(154.3 307.1) rotate(-90) scale(1.12 1)" font-size="7.8" text-anchor="end" fill="#2a2a2a" font-family="Liberation Serif, serif">10</text>
<text transform="translate(166.6 307.1) rotate(-90) scale(1.12 1)" font-size="7.8" text-anchor="end" fill="#2a2a2a" font-family="Liberation Serif, serif">11</text>
<text transform="translate(178.9 307.1) rotate(-90) scale(1.12 1)" font-size="7.8" text-anchor="end" fill="#2a2a2a" font-family="Liberation Serif, serif">12</text>
<text transform="translate(191.1 307.1) rotate(-90) scale(1.12 1)" font-size="7.8" text-anchor="end" fill="#2a2a2a" font-family="Liberation Serif, serif">13</text>
<text transform="translate(203.4 307.1) rotate(-90) scale(1.12 1)" font-size="7.8" text-anchor="end" fill="#2a2a2a" font-family="Liberation Serif, serif">14</text>
<text transform="translate(215.7 307.1) rotate(-90) scale(1.12 1)" font-size="7.8" text-anchor="end" fill="#2a2a2a" font-family="Liberation Serif, serif">15</text>
<text transform="translate(228.0 307.1) rotate(-90) scale(1.12 1)" font-size="7.8" text-anchor="end" fill="#2a2a2a" font-family="Liberation Serif, serif">16</text>
<text transform="translate(240.3 307.1) rotate(-90) scale(1.12 1)" font-size="7.8" text-anchor="end" fill="#2a2a2a" font-family="Liberation Serif, serif">17</text>
<text transform="translate(252.6 307.1) rotate(-90) scale(1.12 1)" font-size="7.8" text-anchor="end" fill="#2a2a2a" font-family="Liberation Serif, serif">18</text>
<text transform="translate(264.9 307.1) rotate(-90) scale(1.12 1)" font-size="7.8" text-anchor="end" fill="#2a2a2a" font-family="Liberation Serif, serif">19</text>
<text transform="translate(277.2 307.1) rotate(-90) scale(1.12 1)" font-size="7.8" text-anchor="end" fill="#2a2a2a" font-family="Liberation Serif, serif">20</text>
<text transform="translate(289.5 307.1) rotate(-90) scale(1.12 1)" font-size="7.8" text-anchor="end" fill="#2a2a2a" font-family="Liberation Serif, serif">21</text>
<text transform="translate(301.8 307.1) rotate(-90) scale(1.12 1)" font-size="7.8" text-anchor="end" fill="#2a2a2a" font-family="Liberation Serif, serif">22</text>
<text transform="translate(314.0 307.1) rotate(-90) scale(1.12 1)" font-size="7.8" text-anchor="end" fill="#2a2a2a" font-family="Liberation Serif, serif">23</text>
<text transform="translate(326.3 307.1) rotate(-90) scale(1.12 1)" font-size="7.8" text-anchor="end" fill="#2a2a2a" font-family="Liberation Serif, serif">24</text>
<text transform="translate(338.6 307.1) rotate(-90) scale(1.12 1)" font-size="7.8" text-anchor="end" fill="#2a2a2a" font-family="Liberation Serif, serif">25</text>
<text x="189.8" y="325.6" font-size="14" text-anchor="middle" textLength="96" lengthAdjust="spacingAndGlyphs" fill="#2a2a2a" font-family="Liberation Serif, serif">Drainage basins</text>
<text x="196.8" y="349.9" font-size="20.5" text-anchor="middle" textLength="24.2" lengthAdjust="spacingAndGlyphs" fill="#2a2a2a" font-family="Liberation Serif, serif">(a)</text>
<text transform="translate(13.8 161.5) rotate(-90)" font-size="16" text-anchor="middle" textLength="166" lengthAdjust="spacingAndGlyphs" fill="#2a2a2a" font-family="Liberation Serif, serif">Relative uncertainity(-)</text>
<path d="M428.50 56.10L428.50 18.40A37.7 37.7 0 0 0 419.12 19.58Z" fill="#dcfae6" stroke="#505050" stroke-width="0.42" stroke-linejoin="round"/>
<path d="M428.50 56.10L419.12 19.58A37.7 37.7 0 0 0 410.34 23.06Z" fill="#b4f2c8" stroke="#505050" stroke-width="0.42" stroke-linejoin="round"/>
<path d="M428.50 56.10L410.34 23.06A37.7 37.7 0 0 0 402.69 28.62Z" fill="#a0dcb4" stroke="#505050" stroke-width="0.42" stroke-linejoin="round"/>
<path d="M428.50 56.10L402.69 28.62A37.7 37.7 0 0 0 396.67 35.90Z" fill="#b4e4c0" stroke="#505050" stroke-width="0.42" stroke-linejoin="round"/>
<path d="M428.50 56.10L396.67 35.90A37.7 37.7 0 0 0 392.65 44.45Z" fill="#9cd0a4" stroke="#505050" stroke-width="0.42" stroke-linejoin="round"/>
<path d="M428.50 56.10L392.65 44.45A37.7 37.7 0 0 0 390.87 53.73Z" fill="#ffffff" stroke="#505050" stroke-width="0.42" stroke-linejoin="round"/>
<path d="M428.50 56.10L390.87 53.73A37.7 37.7 0 0 0 391.47 63.16Z" fill="#f2f2f2" stroke="#505050" stroke-width="0.42" stroke-linejoin="round"/>
<path d="M428.50 56.10L391.47 63.16A37.7 37.7 0 0 0 394.39 72.15Z" fill="#ebebeb" stroke="#505050" stroke-width="0.42" stroke-linejoin="round"/>
<path d="M428.50 56.10L394.39 72.15A37.7 37.7 0 0 0 399.45 80.13Z" fill="#7a7a7a" stroke="#505050" stroke-width="0.42" stroke-linejoin="round"/>
<path d="M428.50 56.10L399.45 80.13A37.7 37.7 0 0 0 406.34 86.60Z" fill="#666666" stroke="#505050" stroke-width="0.42" stroke-linejoin="round"/>
<path d="M428.50 56.10L406.34 86.60A37.7 37.7 0 0 0 414.62 91.15Z" fill="#f3e8c4" stroke="#505050" stroke-width="0.42" stroke-linejoin="round"/>
<path d="M427.56 59.75L413.68 94.80A37.7 37.7 0 0 0 422.84 97.15Z" fill="#ffffff" stroke="#505050" stroke-width="0.42" stroke-linejoin="round"/>
<path d="M428.50 56.10L423.77 93.50A37.7 37.7 0 0 0 433.23 93.50Z" fill="#ebe2d2" stroke="#505050" stroke-width="0.42" stroke-linejoin="round"/>
<path d="M428.50 56.10L433.23 93.50A37.7 37.7 0 0 0 442.38 91.15Z" fill="#d9a898" stroke="#505050" stroke-width="0.42" stroke-linejoin="round"/>
<path d="M428.50 56.10L442.38 91.15A37.7 37.7 0 0 0 450.66 86.60Z" fill="#dcc0ac" stroke="#505050" stroke-width="0.42" stroke-linejoin="round"/>
<path d="M428.50 56.10L450.66 86.60A37.7 37.7 0 0 0 457.55 80.13Z" fill="#fddde2" stroke="#505050" stroke-width="0.42" stroke-linejoin="round"/>
<path d="M428.50 56.10L457.55 80.13A37.7 37.7 0 0 0 462.61 72.15Z" fill="#fbe6de" stroke="#505050" stroke-width="0.42" stroke-linejoin="round"/>
<path d="M428.50 56.10L462.61 72.15A37.7 37.7 0 0 0 465.53 63.16Z" fill="#f8b4c4" stroke="#505050" stroke-width="0.42" stroke-linejoin="round"/>
<path d="M428.50 56.10L465.53 63.16A37.7 37.7 0 0 0 466.13 53.73Z" fill="#ea707a" stroke="#505050" stroke-width="0.42" stroke-linejoin="round"/>
<path d="M428.50 56.10L466.13 53.73A37.7 37.7 0 0 0 464.35 44.45Z" fill="#e8b4b8" stroke="#505050" stroke-width="0.42" stroke-linejoin="round"/>
<path d="M428.50 56.10L464.35 44.45A37.7 37.7 0 0 0 460.33 35.90Z" fill="#d8f0f8" stroke="#505050" stroke-width="0.42" stroke-linejoin="round"/>
<path d="M428.50 56.10L460.33 35.90A37.7 37.7 0 0 0 454.31 28.62Z" fill="#e4f8fc" stroke="#505050" stroke-width="0.42" stroke-linejoin="round"/>
<path d="M428.50 56.10L454.31 28.62A37.7 37.7 0 0 0 446.66 23.06Z" fill="#84ccf8" stroke="#505050" stroke-width="0.42" stroke-linejoin="round"/>
<path d="M428.50 56.10L446.66 23.06A37.7 37.7 0 0 0 437.88 19.58Z" fill="#ffffff" stroke="#505050" stroke-width="0.42" stroke-linejoin="round"/>
<path d="M428.50 56.10L437.88 19.58A37.7 37.7 0 0 0 428.50 18.40Z" fill="#ffffff" stroke="#505050" stroke-width="0.42" stroke-linejoin="round"/>
<circle cx="428.5" cy="56.1" r="1.3" fill="#222"/>
<text x="423.2" y="11.8" font-size="7.4" text-anchor="middle" fill="#2a2a2a" font-family="Liberation Serif, serif">1</text>
<text x="412.8" y="14.5" font-size="7.4" text-anchor="middle" fill="#2a2a2a" font-family="Liberation Serif, serif">2</text>
<text x="404.5" y="19.6" font-size="7.4" text-anchor="end" fill="#2a2a2a" font-family="Liberation Serif, serif">3</text>
<text x="396.7" y="26.9" font-size="7.4" text-anchor="end" fill="#2a2a2a" font-family="Liberation Serif, serif">4</text>
<text x="391.0" y="36.0" font-size="7.4" text-anchor="end" fill="#2a2a2a" font-family="Liberation Serif, serif">5</text>
<text x="387.7" y="50.1" font-size="7.4" text-anchor="end" fill="#2a2a2a" font-family="Liberation Serif, serif">6<tspan font-size="9.2" dy="-0.5">*</tspan></text>
<text x="387.0" y="60.8" font-size="7.4" text-anchor="end" fill="#2a2a2a" font-family="Liberation Serif, serif">7</text>
<text x="389.0" y="71.3" font-size="7.4" text-anchor="end" fill="#2a2a2a" font-family="Liberation Serif, serif">8<tspan font-size="9.2" dy="-0.5">*</tspan></text>
<text x="393.5" y="84.7" font-size="7.4" text-anchor="end" fill="#2a2a2a" font-family="Liberation Serif, serif">9<tspan font-size="9.2" dy="-0.5">*</tspan></text>
<text x="400.3" y="93.0" font-size="7.4" text-anchor="end" fill="#2a2a2a" font-family="Liberation Serif, serif">10<tspan font-size="9.2" dy="-0.5">*</tspan></text>
<text x="409.0" y="99.2" font-size="7.4" text-anchor="end" fill="#2a2a2a" font-family="Liberation Serif, serif">11<tspan font-size="9.2" dy="-0.5">*</tspan></text>
<text x="417.0" y="106.8" font-size="7.4" text-anchor="middle" fill="#2a2a2a" font-family="Liberation Serif, serif">12</text>
<text x="428.5" y="104.5" font-size="7.4" text-anchor="middle" fill="#2a2a2a" font-family="Liberation Serif, serif">13<tspan font-size="9.2" dy="-0.5">*</tspan></text>
<text x="439.1" y="103.2" font-size="7.4" text-anchor="middle" fill="#2a2a2a" font-family="Liberation Serif, serif">14<tspan font-size="9.2" dy="-0.5">*</tspan></text>
<text x="449.0" y="99.2" font-size="7.4" text-anchor="start" fill="#2a2a2a" font-family="Liberation Serif, serif">15<tspan font-size="9.2" dy="-0.5">*</tspan></text>
<text x="457.7" y="93.0" font-size="7.4" text-anchor="start" fill="#2a2a2a" font-family="Liberation Serif, serif">16<tspan font-size="9.2" dy="-0.5">*</tspan></text>
<text x="464.5" y="84.7" font-size="7.4" text-anchor="start" fill="#2a2a2a" font-family="Liberation Serif, serif">17<tspan font-size="9.2" dy="-0.5">*</tspan></text>
<text x="469.0" y="71.3" font-size="7.4" text-anchor="start" fill="#2a2a2a" font-family="Liberation Serif, serif">18<tspan font-size="9.2" dy="-0.5">*</tspan></text>
<text x="471.0" y="60.8" font-size="7.4" text-anchor="start" fill="#2a2a2a" font-family="Liberation Serif, serif">19</text>
<text x="470.3" y="50.1" font-size="7.4" text-anchor="start" fill="#2a2a2a" font-family="Liberation Serif, serif">20</text>
<text x="467.0" y="36.0" font-size="7.4" text-anchor="start" fill="#2a2a2a" font-family="Liberation Serif, serif">21</text>
<text x="461.3" y="26.9" font-size="7.4" text-anchor="start" fill="#2a2a2a" font-family="Liberation Serif, serif">22<tspan font-size="9.2" dy="-0.5">*</tspan></text>
<text x="453.5" y="19.6" font-size="7.4" text-anchor="start" fill="#2a2a2a" font-family="Liberation Serif, serif">23</text>
<text x="444.2" y="14.5" font-size="7.4" text-anchor="middle" fill="#2a2a2a" font-family="Liberation Serif, serif">24</text>
<text x="433.8" y="11.8" font-size="7.4" text-anchor="middle" fill="#2a2a2a" font-family="Liberation Serif, serif">25</text>
<path d="M567.43 52.66L567.43 14.96A37.7 37.7 0 0 0 558.05 16.14Z" fill="#ffffff" stroke="#505050" stroke-width="0.42" stroke-linejoin="round"/>
<path d="M567.90 56.40L558.52 19.88A37.7 37.7 0 0 0 549.74 23.36Z" fill="#dcf5e6" stroke="#505050" stroke-width="0.42" stroke-linejoin="round"/>
<path d="M565.68 53.35L547.52 20.31A37.7 37.7 0 0 0 539.88 25.87Z" fill="#ffffff" stroke="#505050" stroke-width="0.42" stroke-linejoin="round"/>
<path d="M565.00 54.00L539.19 26.51A37.7 37.7 0 0 0 533.16 33.80Z" fill="#ffffff" stroke="#505050" stroke-width="0.42" stroke-linejoin="round"/>
<path d="M567.90 56.40L536.07 36.20A37.7 37.7 0 0 0 532.05 44.75Z" fill="#b8e0c0" stroke="#505050" stroke-width="0.42" stroke-linejoin="round"/>
<path d="M564.20 55.69L528.34 44.04A37.7 37.7 0 0 0 526.57 53.33Z" fill="#ffffff" stroke="#505050" stroke-width="0.42" stroke-linejoin="round"/>
<path d="M567.90 56.40L530.27 54.03A37.7 37.7 0 0 0 530.87 63.46Z" fill="#f5f5f5" stroke="#505050" stroke-width="0.42" stroke-linejoin="round"/>
<path d="M567.90 56.40L530.87 63.46A37.7 37.7 0 0 0 533.79 72.45Z" fill="#d8d8d8" stroke="#505050" stroke-width="0.42" stroke-linejoin="round"/>
<path d="M564.72 58.42L530.60 74.47A37.7 37.7 0 0 0 535.67 82.45Z" fill="#ffffff" stroke="#505050" stroke-width="0.42" stroke-linejoin="round"/>
<path d="M565.32 59.15L536.27 83.18A37.7 37.7 0 0 0 543.16 89.65Z" fill="#ffffff" stroke="#505050" stroke-width="0.42" stroke-linejoin="round"/>
<path d="M567.90 56.40L545.74 86.90A37.7 37.7 0 0 0 554.02 91.45Z" fill="#f8f4e4" stroke="#505050" stroke-width="0.42" stroke-linejoin="round"/>
<path d="M567.90 56.40L554.02 91.45A37.7 37.7 0 0 0 563.17 93.80Z" fill="#f4ece0" stroke="#505050" stroke-width="0.42" stroke-linejoin="round"/>
<path d="M567.90 56.40L563.17 93.80A37.7 37.7 0 0 0 572.63 93.80Z" fill="#ecdcc4" stroke="#505050" stroke-width="0.42" stroke-linejoin="round"/>
<path d="M567.90 56.40L572.63 93.80A37.7 37.7 0 0 0 581.78 91.45Z" fill="#e8c8b8" stroke="#505050" stroke-width="0.42" stroke-linejoin="round"/>
<path d="M567.90 56.40L581.78 91.45A37.7 37.7 0 0 0 590.06 86.90Z" fill="#c08860" stroke="#505050" stroke-width="0.42" stroke-linejoin="round"/>
<path d="M567.90 56.40L590.06 86.90A37.7 37.7 0 0 0 596.95 80.43Z" fill="#fcdce0" stroke="#505050" stroke-width="0.42" stroke-linejoin="round"/>
<path d="M567.90 56.40L596.95 80.43A37.7 37.7 0 0 0 602.01 72.45Z" fill="#fce8e4" stroke="#505050" stroke-width="0.42" stroke-linejoin="round"/>
<path d="M567.90 56.40L602.01 72.45A37.7 37.7 0 0 0 604.93 63.46Z" fill="#fcdce4" stroke="#505050" stroke-width="0.42" stroke-linejoin="round"/>
<path d="M567.90 56.40L604.93 63.46A37.7 37.7 0 0 0 605.53 54.03Z" fill="#eca0a8" stroke="#505050" stroke-width="0.42" stroke-linejoin="round"/>
<path d="M571.60 55.69L609.23 53.33A37.7 37.7 0 0 0 607.46 44.04Z" fill="#ffffff" stroke="#505050" stroke-width="0.42" stroke-linejoin="round"/>
<path d="M567.90 56.40L603.75 44.75A37.7 37.7 0 0 0 599.73 36.20Z" fill="#d8eefa" stroke="#505050" stroke-width="0.42" stroke-linejoin="round"/>
<path d="M570.80 54.00L602.64 33.80A37.7 37.7 0 0 0 596.61 26.51Z" fill="#ffffff" stroke="#505050" stroke-width="0.42" stroke-linejoin="round"/>
<path d="M570.12 53.35L595.92 25.87A37.7 37.7 0 0 0 588.28 20.31Z" fill="#ffffff" stroke="#505050" stroke-width="0.42" stroke-linejoin="round"/>
<path d="M567.90 56.40L586.06 23.36A37.7 37.7 0 0 0 577.28 19.88Z" fill="#ffffff" stroke="#505050" stroke-width="0.42" stroke-linejoin="round"/>
<path d="M567.90 56.40L577.28 19.88A37.7 37.7 0 0 0 567.90 18.70Z" fill="#ffffff" stroke="#505050" stroke-width="0.42" stroke-linejoin="round"/>
<circle cx="567.9" cy="56.4" r="0.7" fill="#222"/>
<text x="562.1" y="8.4" font-size="7.4" text-anchor="middle" fill="#2a2a2a" font-family="Liberation Serif, serif">1<tspan font-size="9.2" dy="-0.5">*</tspan></text>
<text x="552.2" y="14.8" font-size="7.4" text-anchor="middle" fill="#2a2a2a" font-family="Liberation Serif, serif">2</text>
<text x="541.6" y="16.9" font-size="7.4" text-anchor="end" fill="#2a2a2a" font-family="Liberation Serif, serif">3</text>
<text x="533.2" y="24.8" font-size="7.4" text-anchor="end" fill="#2a2a2a" font-family="Liberation Serif, serif">4</text>
<text x="530.4" y="36.3" font-size="7.4" text-anchor="end" fill="#2a2a2a" font-family="Liberation Serif, serif">5<tspan font-size="9.2" dy="-0.5">*</tspan></text>
<text x="523.4" y="49.7" font-size="7.4" text-anchor="end" fill="#2a2a2a" font-family="Liberation Serif, serif">6<tspan font-size="9.2" dy="-0.5">*</tspan></text>
<text x="526.4" y="61.1" font-size="7.4" text-anchor="end" fill="#2a2a2a" font-family="Liberation Serif, serif">7</text>
<text x="528.4" y="71.6" font-size="7.4" text-anchor="end" fill="#2a2a2a" font-family="Liberation Serif, serif">8<tspan font-size="9.2" dy="-0.5">*</tspan></text>
<text x="529.7" y="87.0" font-size="7.4" text-anchor="end" fill="#2a2a2a" font-family="Liberation Serif, serif">9<tspan font-size="9.2" dy="-0.5">*</tspan></text>
<text x="537.2" y="96.0" font-size="7.4" text-anchor="end" fill="#2a2a2a" font-family="Liberation Serif, serif">10<tspan font-size="9.2" dy="-0.5">*</tspan></text>
<text x="548.4" y="99.5" font-size="7.4" text-anchor="end" fill="#2a2a2a" font-family="Liberation Serif, serif">11<tspan font-size="9.2" dy="-0.5">*</tspan></text>
<text x="557.3" y="103.5" font-size="7.4" text-anchor="middle" fill="#2a2a2a" font-family="Liberation Serif, serif">12</text>
<text x="567.9" y="104.8" font-size="7.4" text-anchor="middle" fill="#2a2a2a" font-family="Liberation Serif, serif">13</text>
<text x="578.5" y="103.5" font-size="7.4" text-anchor="middle" fill="#2a2a2a" font-family="Liberation Serif, serif">14<tspan font-size="9.2" dy="-0.5">*</tspan></text>
<text x="588.4" y="99.5" font-size="7.4" text-anchor="start" fill="#2a2a2a" font-family="Liberation Serif, serif">15<tspan font-size="9.2" dy="-0.5">*</tspan></text>
<text x="597.1" y="93.3" font-size="7.4" text-anchor="start" fill="#2a2a2a" font-family="Liberation Serif, serif">16<tspan font-size="9.2" dy="-0.5">*</tspan></text>
<text x="603.9" y="85.0" font-size="7.4" text-anchor="start" fill="#2a2a2a" font-family="Liberation Serif, serif">17<tspan font-size="9.2" dy="-0.5">*</tspan></text>
<text x="608.4" y="71.6" font-size="7.4" text-anchor="start" fill="#2a2a2a" font-family="Liberation Serif, serif">18<tspan font-size="9.2" dy="-0.5">*</tspan></text>
<text x="610.4" y="61.1" font-size="7.4" text-anchor="start" fill="#2a2a2a" font-family="Liberation Serif, serif">19<tspan font-size="9.2" dy="-0.5">*</tspan></text>
<text x="613.4" y="49.7" font-size="7.4" text-anchor="start" fill="#2a2a2a" font-family="Liberation Serif, serif">20</text>
<text x="606.4" y="36.3" font-size="7.4" text-anchor="start" fill="#2a2a2a" font-family="Liberation Serif, serif">21</text>
<text x="603.6" y="24.8" font-size="7.4" text-anchor="start" fill="#2a2a2a" font-family="Liberation Serif, serif">22<tspan font-size="9.2" dy="-0.5">*</tspan></text>
<text x="595.2" y="16.9" font-size="7.4" text-anchor="start" fill="#2a2a2a" font-family="Liberation Serif, serif">23<tspan font-size="9.2" dy="-0.5">*</tspan></text>
<text x="583.6" y="14.8" font-size="7.4" text-anchor="middle" fill="#2a2a2a" font-family="Liberation Serif, serif">24</text>
<text x="573.2" y="12.1" font-size="7.4" text-anchor="middle" fill="#2a2a2a" font-family="Liberation Serif, serif">25</text>
<path d="M428.50 166.80L428.50 129.10A37.7 37.7 0 0 0 419.12 130.28Z" fill="#dcf8e8" stroke="#505050" stroke-width="0.42" stroke-linejoin="round"/>
<path d="M428.50 166.80L419.12 130.28A37.7 37.7 0 0 0 410.34 133.76Z" fill="#c8f4d8" stroke="#505050" stroke-width="0.42" stroke-linejoin="round"/>
<path d="M426.28 163.75L408.12 130.71A37.7 37.7 0 0 0 400.48 136.27Z" fill="#ffffff" stroke="#505050" stroke-width="0.42" stroke-linejoin="round"/>
<path d="M428.50 166.80L402.69 139.32A37.7 37.7 0 0 0 396.67 146.60Z" fill="#a0e0b0" stroke="#505050" stroke-width="0.42" stroke-linejoin="round"/>
<path d="M428.50 166.80L396.67 146.60A37.7 37.7 0 0 0 392.65 155.15Z" fill="#50b068" stroke="#505050" stroke-width="0.42" stroke-linejoin="round"/>
<path d="M428.50 166.80L392.65 155.15A37.7 37.7 0 0 0 390.87 164.43Z" fill="#f0f0f0" stroke="#505050" stroke-width="0.42" stroke-linejoin="round"/>
<path d="M428.50 166.80L390.87 164.43A37.7 37.7 0 0 0 391.47 173.86Z" fill="#f4f4f4" stroke="#505050" stroke-width="0.42" stroke-linejoin="round"/>
<path d="M428.50 166.80L391.47 173.86A37.7 37.7 0 0 0 394.39 182.85Z" fill="#e8e8e8" stroke="#505050" stroke-width="0.42" stroke-linejoin="round"/>
<path d="M425.32 168.82L391.20 184.87A37.7 37.7 0 0 0 396.27 192.85Z" fill="#ffffff" stroke="#505050" stroke-width="0.42" stroke-linejoin="round"/>
<path d="M428.50 166.80L399.45 190.83A37.7 37.7 0 0 0 406.34 197.30Z" fill="#b8b8b8" stroke="#505050" stroke-width="0.42" stroke-linejoin="round"/>
<path d="M428.50 166.80L406.34 197.30A37.7 37.7 0 0 0 414.62 201.85Z" fill="#f8f4e4" stroke="#505050" stroke-width="0.42" stroke-linejoin="round"/>
<path d="M428.50 166.80L414.62 201.85A37.7 37.7 0 0 0 423.77 204.20Z" fill="#f0e4d0" stroke="#505050" stroke-width="0.42" stroke-linejoin="round"/>
<path d="M428.50 166.80L423.77 204.20A37.7 37.7 0 0 0 433.23 204.20Z" fill="#eadcc4" stroke="#505050" stroke-width="0.42" stroke-linejoin="round"/>
<path d="M428.50 166.80L433.23 204.20A37.7 37.7 0 0 0 442.38 201.85Z" fill="#f0e4dc" stroke="#505050" stroke-width="0.42" stroke-linejoin="round"/>
<path d="M428.50 166.80L442.38 201.85A37.7 37.7 0 0 0 450.66 197.30Z" fill="#e0d0c0" stroke="#505050" stroke-width="0.42" stroke-linejoin="round"/>
<path d="M431.08 169.55L453.24 200.05A37.7 37.7 0 0 0 460.13 193.58Z" fill="#ffffff" stroke="#505050" stroke-width="0.42" stroke-linejoin="round"/>
<path d="M428.50 166.80L457.55 190.83A37.7 37.7 0 0 0 462.61 182.85Z" fill="#fce0d8" stroke="#505050" stroke-width="0.42" stroke-linejoin="round"/>
<path d="M428.50 166.80L462.61 182.85A37.7 37.7 0 0 0 465.53 173.86Z" fill="#fce4e8" stroke="#505050" stroke-width="0.42" stroke-linejoin="round"/>
<path d="M428.50 166.80L465.53 173.86A37.7 37.7 0 0 0 466.13 164.43Z" fill="#e86068" stroke="#505050" stroke-width="0.42" stroke-linejoin="round"/>
<path d="M428.50 166.80L466.13 164.43A37.7 37.7 0 0 0 464.35 155.15Z" fill="#c04048" stroke="#505050" stroke-width="0.42" stroke-linejoin="round"/>
<path d="M428.50 166.80L464.35 155.15A37.7 37.7 0 0 0 460.33 146.60Z" fill="#d8f0f8" stroke="#505050" stroke-width="0.42" stroke-linejoin="round"/>
<path d="M428.50 166.80L460.33 146.60A37.7 37.7 0 0 0 454.31 139.32Z" fill="#c4eef6" stroke="#505050" stroke-width="0.42" stroke-linejoin="round"/>
<path d="M428.50 166.80L454.31 139.32A37.7 37.7 0 0 0 446.66 133.76Z" fill="#54b0f4" stroke="#505050" stroke-width="0.42" stroke-linejoin="round"/>
<path d="M428.50 166.80L446.66 133.76A37.7 37.7 0 0 0 437.88 130.28Z" fill="#ffffff" stroke="#505050" stroke-width="0.42" stroke-linejoin="round"/>
<path d="M428.50 166.80L437.88 130.28A37.7 37.7 0 0 0 428.50 129.10Z" fill="#ffffff" stroke="#505050" stroke-width="0.42" stroke-linejoin="round"/>
<circle cx="428.5" cy="166.8" r="1.3" fill="#222"/>
<text x="423.2" y="122.5" font-size="7.4" text-anchor="middle" fill="#2a2a2a" font-family="Liberation Serif, serif">1<tspan font-size="9.2" dy="-0.5">*</tspan></text>
<text x="412.8" y="125.2" font-size="7.4" text-anchor="middle" fill="#2a2a2a" font-family="Liberation Serif, serif">2<tspan font-size="9.2" dy="-0.5">*</tspan></text>
<text x="402.2" y="127.3" font-size="7.4" text-anchor="end" fill="#2a2a2a" font-family="Liberation Serif, serif">3</text>
<text x="396.7" y="137.6" font-size="7.4" text-anchor="end" fill="#2a2a2a" font-family="Liberation Serif, serif">4</text>
<text x="391.0" y="146.7" font-size="7.4" text-anchor="end" fill="#2a2a2a" font-family="Liberation Serif, serif">5</text>
<text x="387.7" y="160.8" font-size="7.4" text-anchor="end" fill="#2a2a2a" font-family="Liberation Serif, serif">6<tspan font-size="9.2" dy="-0.5">*</tspan></text>
<text x="387.0" y="171.5" font-size="7.4" text-anchor="end" fill="#2a2a2a" font-family="Liberation Serif, serif">7<tspan font-size="9.2" dy="-0.5">*</tspan></text>
<text x="389.0" y="182.0" font-size="7.4" text-anchor="end" fill="#2a2a2a" font-family="Liberation Serif, serif">8<tspan font-size="9.2" dy="-0.5">*</tspan></text>
<text x="390.3" y="197.4" font-size="7.4" text-anchor="end" fill="#2a2a2a" font-family="Liberation Serif, serif">9</text>
<text x="400.3" y="203.7" font-size="7.4" text-anchor="end" fill="#2a2a2a" font-family="Liberation Serif, serif">10<tspan font-size="9.2" dy="-0.5">*</tspan></text>
<text x="409.0" y="209.9" font-size="7.4" text-anchor="end" fill="#2a2a2a" font-family="Liberation Serif, serif">11<tspan font-size="9.2" dy="-0.5">*</tspan></text>
<text x="417.9" y="213.9" font-size="7.4" text-anchor="middle" fill="#2a2a2a" font-family="Liberation Serif, serif">12</text>
<text x="428.5" y="215.2" font-size="7.4" text-anchor="middle" fill="#2a2a2a" font-family="Liberation Serif, serif">13<tspan font-size="9.2" dy="-0.5">*</tspan></text>
<text x="439.1" y="213.9" font-size="7.4" text-anchor="middle" fill="#2a2a2a" font-family="Liberation Serif, serif">14</text>
<text x="449.0" y="209.9" font-size="7.4" text-anchor="start" fill="#2a2a2a" font-family="Liberation Serif, serif">15<tspan font-size="9.2" dy="-0.5">*</tspan></text>
<text x="460.2" y="206.4" font-size="7.4" text-anchor="start" fill="#2a2a2a" font-family="Liberation Serif, serif">16<tspan font-size="9.2" dy="-0.5">*</tspan></text>
<text x="464.5" y="195.4" font-size="7.4" text-anchor="start" fill="#2a2a2a" font-family="Liberation Serif, serif">17</text>
<text x="469.0" y="182.0" font-size="7.4" text-anchor="start" fill="#2a2a2a" font-family="Liberation Serif, serif">18<tspan font-size="9.2" dy="-0.5">*</tspan></text>
<text x="471.0" y="171.5" font-size="7.4" text-anchor="start" fill="#2a2a2a" font-family="Liberation Serif, serif">19<tspan font-size="9.2" dy="-0.5">*</tspan></text>
<text x="470.3" y="160.8" font-size="7.4" text-anchor="start" fill="#2a2a2a" font-family="Liberation Serif, serif">20<tspan font-size="9.2" dy="-0.5">*</tspan></text>
<text x="467.0" y="146.7" font-size="7.4" text-anchor="start" fill="#2a2a2a" font-family="Liberation Serif, serif">21<tspan font-size="9.2" dy="-0.5">*</tspan></text>
<text x="461.3" y="137.6" font-size="7.4" text-anchor="start" fill="#2a2a2a" font-family="Liberation Serif, serif">22<tspan font-size="9.2" dy="-0.5">*</tspan></text>
<text x="453.5" y="130.3" font-size="7.4" text-anchor="start" fill="#2a2a2a" font-family="Liberation Serif, serif">23<tspan font-size="9.2" dy="-0.5">*</tspan></text>
<text x="444.2" y="125.2" font-size="7.4" text-anchor="middle" fill="#2a2a2a" font-family="Liberation Serif, serif">24</text>
<text x="433.8" y="122.5" font-size="7.4" text-anchor="middle" fill="#2a2a2a" font-family="Liberation Serif, serif">25</text>
<path d="M566.53 163.66L566.53 125.96A37.7 37.7 0 0 0 557.15 127.14Z" fill="#ffffff" stroke="#505050" stroke-width="0.42" stroke-linejoin="round"/>
<path d="M567.00 167.40L557.62 130.88A37.7 37.7 0 0 0 548.84 134.36Z" fill="#dcf8e8" stroke="#505050" stroke-width="0.42" stroke-linejoin="round"/>
<path d="M567.00 167.40L548.84 134.36A37.7 37.7 0 0 0 541.19 139.92Z" fill="#70d0a0" stroke="#505050" stroke-width="0.42" stroke-linejoin="round"/>
<path d="M564.10 165.00L538.29 137.51A37.7 37.7 0 0 0 532.26 144.80Z" fill="#ffffff" stroke="#505050" stroke-width="0.42" stroke-linejoin="round"/>
<path d="M567.00 167.40L535.17 147.20A37.7 37.7 0 0 0 531.15 155.75Z" fill="#b0dcb8" stroke="#505050" stroke-width="0.42" stroke-linejoin="round"/>
<path d="M567.00 167.40L531.15 155.75A37.7 37.7 0 0 0 529.37 165.03Z" fill="#f4f4f4" stroke="#505050" stroke-width="0.42" stroke-linejoin="round"/>
<path d="M567.00 167.40L529.37 165.03A37.7 37.7 0 0 0 529.97 174.46Z" fill="#ececec" stroke="#505050" stroke-width="0.42" stroke-linejoin="round"/>
<path d="M567.00 167.40L529.97 174.46A37.7 37.7 0 0 0 532.89 183.45Z" fill="#c8c8c8" stroke="#505050" stroke-width="0.42" stroke-linejoin="round"/>
<path d="M563.82 169.42L529.70 185.47A37.7 37.7 0 0 0 534.77 193.45Z" fill="#ffffff" stroke="#505050" stroke-width="0.42" stroke-linejoin="round"/>
<path d="M564.42 170.15L535.37 194.18A37.7 37.7 0 0 0 542.26 200.65Z" fill="#ffffff" stroke="#505050" stroke-width="0.42" stroke-linejoin="round"/>
<path d="M565.18 170.70L543.02 201.20A37.7 37.7 0 0 0 551.31 205.76Z" fill="#ffffff" stroke="#505050" stroke-width="0.42" stroke-linejoin="round"/>
<path d="M566.06 171.05L552.18 206.10A37.7 37.7 0 0 0 561.34 208.45Z" fill="#ffffff" stroke="#505050" stroke-width="0.42" stroke-linejoin="round"/>
<path d="M567.00 167.40L562.27 204.80A37.7 37.7 0 0 0 571.73 204.80Z" fill="#f0e4d4" stroke="#505050" stroke-width="0.42" stroke-linejoin="round"/>
<path d="M567.00 167.40L571.73 204.80A37.7 37.7 0 0 0 580.88 202.45Z" fill="#d8a890" stroke="#505050" stroke-width="0.42" stroke-linejoin="round"/>
<path d="M567.00 167.40L580.88 202.45A37.7 37.7 0 0 0 589.16 197.90Z" fill="#c89070" stroke="#505050" stroke-width="0.42" stroke-linejoin="round"/>
<path d="M567.00 167.40L589.16 197.90A37.7 37.7 0 0 0 596.05 191.43Z" fill="#fce8e8" stroke="#505050" stroke-width="0.42" stroke-linejoin="round"/>
<path d="M567.00 167.40L596.05 191.43A37.7 37.7 0 0 0 601.11 183.45Z" fill="#fcd4c8" stroke="#505050" stroke-width="0.42" stroke-linejoin="round"/>
<path d="M567.00 167.40L601.11 183.45A37.7 37.7 0 0 0 604.03 174.46Z" fill="#f8d0d8" stroke="#505050" stroke-width="0.42" stroke-linejoin="round"/>
<path d="M567.00 167.40L604.03 174.46A37.7 37.7 0 0 0 604.63 165.03Z" fill="#e88088" stroke="#505050" stroke-width="0.42" stroke-linejoin="round"/>
<path d="M570.70 166.69L608.33 164.33A37.7 37.7 0 0 0 606.56 155.04Z" fill="#ffffff" stroke="#505050" stroke-width="0.42" stroke-linejoin="round"/>
<path d="M567.00 167.40L602.85 155.75A37.7 37.7 0 0 0 598.83 147.20Z" fill="#dceefa" stroke="#505050" stroke-width="0.42" stroke-linejoin="round"/>
<path d="M569.90 165.00L601.74 144.80A37.7 37.7 0 0 0 595.71 137.51Z" fill="#ffffff" stroke="#505050" stroke-width="0.42" stroke-linejoin="round"/>
<path d="M569.22 164.35L595.02 136.87A37.7 37.7 0 0 0 587.38 131.31Z" fill="#ffffff" stroke="#505050" stroke-width="0.42" stroke-linejoin="round"/>
<path d="M567.00 167.40L585.16 134.36A37.7 37.7 0 0 0 576.38 130.88Z" fill="#ffffff" stroke="#505050" stroke-width="0.42" stroke-linejoin="round"/>
<path d="M567.00 167.40L576.38 130.88A37.7 37.7 0 0 0 567.00 129.70Z" fill="#ffffff" stroke="#505050" stroke-width="0.42" stroke-linejoin="round"/>
<circle cx="567.0" cy="167.4" r="0.7" fill="#222"/>
<text x="561.2" y="119.4" font-size="7.4" text-anchor="middle" fill="#2a2a2a" font-family="Liberation Serif, serif">1</text>
<text x="551.3" y="125.8" font-size="7.4" text-anchor="middle" fill="#2a2a2a" font-family="Liberation Serif, serif">2</text>
<text x="543.0" y="130.9" font-size="7.4" text-anchor="end" fill="#2a2a2a" font-family="Liberation Serif, serif">3</text>
<text x="532.3" y="135.8" font-size="7.4" text-anchor="end" fill="#2a2a2a" font-family="Liberation Serif, serif">4<tspan font-size="9.2" dy="-0.5">*</tspan></text>
<text x="529.5" y="147.3" font-size="7.4" text-anchor="end" fill="#2a2a2a" font-family="Liberation Serif, serif">5</text>
<text x="526.2" y="161.4" font-size="7.4" text-anchor="end" fill="#2a2a2a" font-family="Liberation Serif, serif">6<tspan font-size="9.2" dy="-0.5">*</tspan></text>
<text x="525.5" y="172.1" font-size="7.4" text-anchor="end" fill="#2a2a2a" font-family="Liberation Serif, serif">7<tspan font-size="9.2" dy="-0.5">*</tspan></text>
<text x="527.5" y="182.6" font-size="7.4" text-anchor="end" fill="#2a2a2a" font-family="Liberation Serif, serif">8<tspan font-size="9.2" dy="-0.5">*</tspan></text>
<text x="528.8" y="198.0" font-size="7.4" text-anchor="end" fill="#2a2a2a" font-family="Liberation Serif, serif">9</text>
<text x="536.3" y="207.0" font-size="7.4" text-anchor="end" fill="#2a2a2a" font-family="Liberation Serif, serif">10</text>
<text x="545.7" y="213.8" font-size="7.4" text-anchor="end" fill="#2a2a2a" font-family="Liberation Serif, serif">11<tspan font-size="9.2" dy="-0.5">*</tspan></text>
<text x="555.5" y="218.1" font-size="7.4" text-anchor="middle" fill="#2a2a2a" font-family="Liberation Serif, serif">12<tspan font-size="9.2" dy="-0.5">*</tspan></text>
<text x="567.0" y="215.8" font-size="7.4" text-anchor="middle" fill="#2a2a2a" font-family="Liberation Serif, serif">13<tspan font-size="9.2" dy="-0.5">*</tspan></text>
<text x="577.6" y="214.5" font-size="7.4" text-anchor="middle" fill="#2a2a2a" font-family="Liberation Serif, serif">14</text>
<text x="587.5" y="210.5" font-size="7.4" text-anchor="start" fill="#2a2a2a" font-family="Liberation Serif, serif">15<tspan font-size="9.2" dy="-0.5">*</tspan></text>
<text x="596.2" y="204.3" font-size="7.4" text-anchor="start" fill="#2a2a2a" font-family="Liberation Serif, serif">16<tspan font-size="9.2" dy="-0.5">*</tspan></text>
<text x="603.0" y="196.0" font-size="7.4" text-anchor="start" fill="#2a2a2a" font-family="Liberation Serif, serif">17<tspan font-size="9.2" dy="-0.5">*</tspan></text>
<text x="607.5" y="182.6" font-size="7.4" text-anchor="start" fill="#2a2a2a" font-family="Liberation Serif, serif">18</text>
<text x="609.5" y="172.1" font-size="7.4" text-anchor="start" fill="#2a2a2a" font-family="Liberation Serif, serif">19</text>
<text x="612.5" y="160.7" font-size="7.4" text-anchor="start" fill="#2a2a2a" font-family="Liberation Serif, serif">20</text>
<text x="605.5" y="147.3" font-size="7.4" text-anchor="start" fill="#2a2a2a" font-family="Liberation Serif, serif">21<tspan font-size="9.2" dy="-0.5">*</tspan></text>
<text x="602.7" y="135.8" font-size="7.4" text-anchor="start" fill="#2a2a2a" font-family="Liberation Serif, serif">22<tspan font-size="9.2" dy="-0.5">*</tspan></text>
<text x="594.3" y="127.9" font-size="7.4" text-anchor="start" fill="#2a2a2a" font-family="Liberation Serif, serif">23<tspan font-size="9.2" dy="-0.5">*</tspan></text>
<text x="582.7" y="125.8" font-size="7.4" text-anchor="middle" fill="#2a2a2a" font-family="Liberation Serif, serif">24</text>
<text x="572.3" y="123.1" font-size="7.4" text-anchor="middle" fill="#2a2a2a" font-family="Liberation Serif, serif">25</text>
<path d="M428.20 274.90L428.20 237.20A37.7 37.7 0 0 0 418.82 238.38Z" fill="#e0faea" stroke="#505050" stroke-width="0.42" stroke-linejoin="round"/>
<path d="M428.20 274.90L418.82 238.38A37.7 37.7 0 0 0 410.04 241.86Z" fill="#d0f4dc" stroke="#505050" stroke-width="0.42" stroke-linejoin="round"/>
<path d="M428.20 274.90L410.04 241.86A37.7 37.7 0 0 0 402.39 247.42Z" fill="#80d8a8" stroke="#505050" stroke-width="0.42" stroke-linejoin="round"/>
<path d="M428.20 274.90L402.39 247.42A37.7 37.7 0 0 0 396.37 254.70Z" fill="#30b850" stroke="#505050" stroke-width="0.42" stroke-linejoin="round"/>
<path d="M428.20 274.90L396.37 254.70A37.7 37.7 0 0 0 392.35 263.25Z" fill="#a8d8b0" stroke="#505050" stroke-width="0.42" stroke-linejoin="round"/>
<path d="M428.20 274.90L392.35 263.25A37.7 37.7 0 0 0 390.57 272.53Z" fill="#f4f4f4" stroke="#505050" stroke-width="0.42" stroke-linejoin="round"/>
<path d="M428.20 274.90L390.57 272.53A37.7 37.7 0 0 0 391.17 281.96Z" fill="#fafafa" stroke="#505050" stroke-width="0.42" stroke-linejoin="round"/>
<path d="M428.20 274.90L391.17 281.96A37.7 37.7 0 0 0 394.09 290.95Z" fill="#d8d8d8" stroke="#505050" stroke-width="0.42" stroke-linejoin="round"/>
<path d="M428.20 274.90L394.09 290.95A37.7 37.7 0 0 0 399.15 298.93Z" fill="#888888" stroke="#505050" stroke-width="0.42" stroke-linejoin="round"/>
<path d="M428.20 274.90L399.15 298.93A37.7 37.7 0 0 0 406.04 305.40Z" fill="#686868" stroke="#505050" stroke-width="0.42" stroke-linejoin="round"/>
<path d="M428.20 274.90L406.04 305.40A37.7 37.7 0 0 0 414.32 309.95Z" fill="#f4e8c8" stroke="#505050" stroke-width="0.42" stroke-linejoin="round"/>
<path d="M427.26 278.55L413.38 313.60A37.7 37.7 0 0 0 422.54 315.95Z" fill="#ffffff" stroke="#505050" stroke-width="0.42" stroke-linejoin="round"/>
<path d="M428.20 274.90L423.47 312.30A37.7 37.7 0 0 0 432.93 312.30Z" fill="#f0e4d0" stroke="#505050" stroke-width="0.42" stroke-linejoin="round"/>
<path d="M428.20 274.90L432.93 312.30A37.7 37.7 0 0 0 442.08 309.95Z" fill="#e8d4c0" stroke="#505050" stroke-width="0.42" stroke-linejoin="round"/>
<path d="M428.20 274.90L442.08 309.95A37.7 37.7 0 0 0 450.36 305.40Z" fill="#d0a888" stroke="#505050" stroke-width="0.42" stroke-linejoin="round"/>
<path d="M428.20 274.90L450.36 305.40A37.7 37.7 0 0 0 457.25 298.93Z" fill="#fcf0f0" stroke="#505050" stroke-width="0.42" stroke-linejoin="round"/>
<path d="M428.20 274.90L457.25 298.93A37.7 37.7 0 0 0 462.31 290.95Z" fill="#fceeee" stroke="#505050" stroke-width="0.42" stroke-linejoin="round"/>
<path d="M428.20 274.90L462.31 290.95A37.7 37.7 0 0 0 465.23 281.96Z" fill="#f8c0cc" stroke="#505050" stroke-width="0.42" stroke-linejoin="round"/>
<path d="M428.20 274.90L465.23 281.96A37.7 37.7 0 0 0 465.83 272.53Z" fill="#e89098" stroke="#505050" stroke-width="0.42" stroke-linejoin="round"/>
<path d="M428.20 274.90L465.83 272.53A37.7 37.7 0 0 0 464.05 263.25Z" fill="#d88088" stroke="#505050" stroke-width="0.42" stroke-linejoin="round"/>
<path d="M428.20 274.90L464.05 263.25A37.7 37.7 0 0 0 460.03 254.70Z" fill="#dcf0f8" stroke="#505050" stroke-width="0.42" stroke-linejoin="round"/>
<path d="M431.10 272.50L462.94 252.30A37.7 37.7 0 0 0 456.91 245.01Z" fill="#ffffff" stroke="#505050" stroke-width="0.42" stroke-linejoin="round"/>
<path d="M428.20 274.90L454.01 247.42A37.7 37.7 0 0 0 446.36 241.86Z" fill="#80c8f8" stroke="#505050" stroke-width="0.42" stroke-linejoin="round"/>
<path d="M428.20 274.90L446.36 241.86A37.7 37.7 0 0 0 437.58 238.38Z" fill="#ffffff" stroke="#505050" stroke-width="0.42" stroke-linejoin="round"/>
<path d="M428.20 274.90L437.58 238.38A37.7 37.7 0 0 0 428.20 237.20Z" fill="#ffffff" stroke="#505050" stroke-width="0.42" stroke-linejoin="round"/>
<circle cx="428.2" cy="274.9" r="1.3" fill="#222"/>
<text x="422.9" y="230.6" font-size="7.4" text-anchor="middle" fill="#2a2a2a" font-family="Liberation Serif, serif">1</text>
<text x="412.5" y="233.3" font-size="7.4" text-anchor="middle" fill="#2a2a2a" font-family="Liberation Serif, serif">2</text>
<text x="404.2" y="238.4" font-size="7.4" text-anchor="end" fill="#2a2a2a" font-family="Liberation Serif, serif">3<tspan font-size="9.2" dy="-0.5">*</tspan></text>
<text x="396.4" y="245.7" font-size="7.4" text-anchor="end" fill="#2a2a2a" font-family="Liberation Serif, serif">4</text>
<text x="390.7" y="254.8" font-size="7.4" text-anchor="end" fill="#2a2a2a" font-family="Liberation Serif, serif">5</text>
<text x="387.4" y="268.9" font-size="7.4" text-anchor="end" fill="#2a2a2a" font-family="Liberation Serif, serif">6</text>
<text x="386.7" y="279.6" font-size="7.4" text-anchor="end" fill="#2a2a2a" font-family="Liberation Serif, serif">7</text>
<text x="388.7" y="290.1" font-size="7.4" text-anchor="end" fill="#2a2a2a" font-family="Liberation Serif, serif">8</text>
<text x="393.2" y="303.5" font-size="7.4" text-anchor="end" fill="#2a2a2a" font-family="Liberation Serif, serif">9</text>
<text x="400.0" y="311.8" font-size="7.4" text-anchor="end" fill="#2a2a2a" font-family="Liberation Serif, serif">10</text>
<text x="408.7" y="318.0" font-size="7.4" text-anchor="end" fill="#2a2a2a" font-family="Liberation Serif, serif">11</text>
<text x="416.7" y="325.6" font-size="7.4" text-anchor="middle" fill="#2a2a2a" font-family="Liberation Serif, serif">12</text>
<text x="428.2" y="323.3" font-size="7.4" text-anchor="middle" fill="#2a2a2a" font-family="Liberation Serif, serif">13<tspan font-size="9.2" dy="-0.5">*</tspan></text>
<text x="438.8" y="322.0" font-size="7.4" text-anchor="middle" fill="#2a2a2a" font-family="Liberation Serif, serif">14</text>
<text x="448.7" y="318.0" font-size="7.4" text-anchor="start" fill="#2a2a2a" font-family="Liberation Serif, serif">15</text>
<text x="457.4" y="311.8" font-size="7.4" text-anchor="start" fill="#2a2a2a" font-family="Liberation Serif, serif">16</text>
<text x="464.2" y="303.5" font-size="7.4" text-anchor="start" fill="#2a2a2a" font-family="Liberation Serif, serif">17<tspan font-size="9.2" dy="-0.5">*</tspan></text>
<text x="468.7" y="290.1" font-size="7.4" text-anchor="start" fill="#2a2a2a" font-family="Liberation Serif, serif">18<tspan font-size="9.2" dy="-0.5">*</tspan></text>
<text x="470.7" y="279.6" font-size="7.4" text-anchor="start" fill="#2a2a2a" font-family="Liberation Serif, serif">19<tspan font-size="9.2" dy="-0.5">*</tspan></text>
<text x="470.0" y="268.9" font-size="7.4" text-anchor="start" fill="#2a2a2a" font-family="Liberation Serif, serif">20<tspan font-size="9.2" dy="-0.5">*</tspan></text>
<text x="466.7" y="254.8" font-size="7.4" text-anchor="start" fill="#2a2a2a" font-family="Liberation Serif, serif">21<tspan font-size="9.2" dy="-0.5">*</tspan></text>
<text x="463.9" y="243.3" font-size="7.4" text-anchor="start" fill="#2a2a2a" font-family="Liberation Serif, serif">22<tspan font-size="9.2" dy="-0.5">*</tspan></text>
<text x="453.2" y="238.4" font-size="7.4" text-anchor="start" fill="#2a2a2a" font-family="Liberation Serif, serif">23<tspan font-size="9.2" dy="-0.5">*</tspan></text>
<text x="443.9" y="233.3" font-size="7.4" text-anchor="middle" fill="#2a2a2a" font-family="Liberation Serif, serif">24</text>
<text x="433.5" y="230.6" font-size="7.4" text-anchor="middle" fill="#2a2a2a" font-family="Liberation Serif, serif">25</text>
<path d="M567.43 270.86L567.43 233.16A37.7 37.7 0 0 0 558.05 234.34Z" fill="#ffffff" stroke="#505050" stroke-width="0.42" stroke-linejoin="round"/>
<path d="M566.51 271.09L557.14 234.58A37.7 37.7 0 0 0 548.35 238.06Z" fill="#ffffff" stroke="#505050" stroke-width="0.42" stroke-linejoin="round"/>
<path d="M565.68 271.55L547.52 238.51A37.7 37.7 0 0 0 539.88 244.07Z" fill="#ffffff" stroke="#505050" stroke-width="0.42" stroke-linejoin="round"/>
<path d="M565.00 272.20L539.19 244.71A37.7 37.7 0 0 0 533.16 252.00Z" fill="#ffffff" stroke="#505050" stroke-width="0.42" stroke-linejoin="round"/>
<path d="M567.90 274.60L536.07 254.40A37.7 37.7 0 0 0 532.05 262.95Z" fill="#c8ecd0" stroke="#505050" stroke-width="0.42" stroke-linejoin="round"/>
<path d="M567.90 274.60L532.05 262.95A37.7 37.7 0 0 0 530.27 272.23Z" fill="#f8f8f8" stroke="#505050" stroke-width="0.42" stroke-linejoin="round"/>
<path d="M567.90 274.60L530.27 272.23A37.7 37.7 0 0 0 530.87 281.66Z" fill="#f0f0f0" stroke="#505050" stroke-width="0.42" stroke-linejoin="round"/>
<path d="M567.90 274.60L530.87 281.66A37.7 37.7 0 0 0 533.79 290.65Z" fill="#d8d8d8" stroke="#505050" stroke-width="0.42" stroke-linejoin="round"/>
<path d="M564.72 276.62L530.60 292.67A37.7 37.7 0 0 0 535.67 300.65Z" fill="#ffffff" stroke="#505050" stroke-width="0.42" stroke-linejoin="round"/>
<path d="M565.32 277.35L536.27 301.38A37.7 37.7 0 0 0 543.16 307.85Z" fill="#ffffff" stroke="#505050" stroke-width="0.42" stroke-linejoin="round"/>
<path d="M567.90 274.60L545.74 305.10A37.7 37.7 0 0 0 554.02 309.65Z" fill="#f8f4e8" stroke="#505050" stroke-width="0.42" stroke-linejoin="round"/>
<path d="M567.90 274.60L554.02 309.65A37.7 37.7 0 0 0 563.17 312.00Z" fill="#f4ece0" stroke="#505050" stroke-width="0.42" stroke-linejoin="round"/>
<path d="M567.90 274.60L563.17 312.00A37.7 37.7 0 0 0 572.63 312.00Z" fill="#f0e4d4" stroke="#505050" stroke-width="0.42" stroke-linejoin="round"/>
<path d="M567.90 274.60L572.63 312.00A37.7 37.7 0 0 0 581.78 309.65Z" fill="#f4e8e0" stroke="#505050" stroke-width="0.42" stroke-linejoin="round"/>
<path d="M567.90 274.60L581.78 309.65A37.7 37.7 0 0 0 590.06 305.10Z" fill="#c89878" stroke="#505050" stroke-width="0.42" stroke-linejoin="round"/>
<path d="M567.90 274.60L590.06 305.10A37.7 37.7 0 0 0 596.95 298.63Z" fill="#fce0e4" stroke="#505050" stroke-width="0.42" stroke-linejoin="round"/>
<path d="M567.90 274.60L596.95 298.63A37.7 37.7 0 0 0 602.01 290.65Z" fill="#fcdcd0" stroke="#505050" stroke-width="0.42" stroke-linejoin="round"/>
<path d="M567.90 274.60L602.01 290.65A37.7 37.7 0 0 0 604.93 281.66Z" fill="#f8c0cc" stroke="#505050" stroke-width="0.42" stroke-linejoin="round"/>
<path d="M567.90 274.60L604.93 281.66A37.7 37.7 0 0 0 605.53 272.23Z" fill="#f0a8b0" stroke="#505050" stroke-width="0.42" stroke-linejoin="round"/>
<path d="M571.60 273.89L609.23 271.53A37.7 37.7 0 0 0 607.46 262.24Z" fill="#ffffff" stroke="#505050" stroke-width="0.42" stroke-linejoin="round"/>
<path d="M571.31 272.99L607.17 261.34A37.7 37.7 0 0 0 603.14 252.79Z" fill="#ffffff" stroke="#505050" stroke-width="0.42" stroke-linejoin="round"/>
<path d="M567.90 274.60L599.73 254.40A37.7 37.7 0 0 0 593.71 247.12Z" fill="#dcf0fa" stroke="#505050" stroke-width="0.42" stroke-linejoin="round"/>
<path d="M570.12 271.55L595.92 244.07A37.7 37.7 0 0 0 588.28 238.51Z" fill="#ffffff" stroke="#505050" stroke-width="0.42" stroke-linejoin="round"/>
<path d="M567.90 274.60L586.06 241.56A37.7 37.7 0 0 0 577.28 238.08Z" fill="#ffffff" stroke="#505050" stroke-width="0.42" stroke-linejoin="round"/>
<path d="M567.90 274.60L577.28 238.08A37.7 37.7 0 0 0 567.90 236.90Z" fill="#ffffff" stroke="#505050" stroke-width="0.42" stroke-linejoin="round"/>
<circle cx="567.9" cy="274.6" r="0.7" fill="#222"/>
<text x="562.1" y="226.6" font-size="7.4" text-anchor="middle" fill="#2a2a2a" font-family="Liberation Serif, serif">1</text>
<text x="550.8" y="229.5" font-size="7.4" text-anchor="middle" fill="#2a2a2a" font-family="Liberation Serif, serif">2<tspan font-size="9.2" dy="-0.5">*</tspan></text>
<text x="541.6" y="235.1" font-size="7.4" text-anchor="end" fill="#2a2a2a" font-family="Liberation Serif, serif">3<tspan font-size="9.2" dy="-0.5">*</tspan></text>
<text x="533.2" y="243.0" font-size="7.4" text-anchor="end" fill="#2a2a2a" font-family="Liberation Serif, serif">4<tspan font-size="9.2" dy="-0.5">*</tspan></text>
<text x="530.4" y="254.5" font-size="7.4" text-anchor="end" fill="#2a2a2a" font-family="Liberation Serif, serif">5<tspan font-size="9.2" dy="-0.5">*</tspan></text>
<text x="527.1" y="268.6" font-size="7.4" text-anchor="end" fill="#2a2a2a" font-family="Liberation Serif, serif">6</text>
<text x="526.4" y="279.3" font-size="7.4" text-anchor="end" fill="#2a2a2a" font-family="Liberation Serif, serif">7</text>
<text x="528.4" y="289.8" font-size="7.4" text-anchor="end" fill="#2a2a2a" font-family="Liberation Serif, serif">8</text>
<text x="529.7" y="305.2" font-size="7.4" text-anchor="end" fill="#2a2a2a" font-family="Liberation Serif, serif">9</text>
<text x="537.2" y="314.2" font-size="7.4" text-anchor="end" fill="#2a2a2a" font-family="Liberation Serif, serif">10</text>
<text x="548.4" y="317.7" font-size="7.4" text-anchor="end" fill="#2a2a2a" font-family="Liberation Serif, serif">11</text>
<text x="557.3" y="321.7" font-size="7.4" text-anchor="middle" fill="#2a2a2a" font-family="Liberation Serif, serif">12<tspan font-size="9.2" dy="-0.5">*</tspan></text>
<text x="567.9" y="323.0" font-size="7.4" text-anchor="middle" fill="#2a2a2a" font-family="Liberation Serif, serif">13</text>
<text x="578.5" y="321.7" font-size="7.4" text-anchor="middle" fill="#2a2a2a" font-family="Liberation Serif, serif">14<tspan font-size="9.2" dy="-0.5">*</tspan></text>
<text x="588.4" y="317.7" font-size="7.4" text-anchor="start" fill="#2a2a2a" font-family="Liberation Serif, serif">15</text>
<text x="597.1" y="311.5" font-size="7.4" text-anchor="start" fill="#2a2a2a" font-family="Liberation Serif, serif">16</text>
<text x="603.9" y="303.2" font-size="7.4" text-anchor="start" fill="#2a2a2a" font-family="Liberation Serif, serif">17</text>
<text x="608.4" y="289.8" font-size="7.4" text-anchor="start" fill="#2a2a2a" font-family="Liberation Serif, serif">18<tspan font-size="9.2" dy="-0.5">*</tspan></text>
<text x="610.4" y="279.3" font-size="7.4" text-anchor="start" fill="#2a2a2a" font-family="Liberation Serif, serif">19</text>
<text x="613.4" y="267.9" font-size="7.4" text-anchor="start" fill="#2a2a2a" font-family="Liberation Serif, serif">20</text>
<text x="609.9" y="252.9" font-size="7.4" text-anchor="start" fill="#2a2a2a" font-family="Liberation Serif, serif">21</text>
<text x="600.7" y="245.4" font-size="7.4" text-anchor="start" fill="#2a2a2a" font-family="Liberation Serif, serif">22</text>
<text x="595.2" y="235.1" font-size="7.4" text-anchor="start" fill="#2a2a2a" font-family="Liberation Serif, serif">23</text>
<text x="583.6" y="233.0" font-size="7.4" text-anchor="middle" fill="#2a2a2a" font-family="Liberation Serif, serif">24</text>
<text x="573.2" y="230.3" font-size="7.4" text-anchor="middle" fill="#2a2a2a" font-family="Liberation Serif, serif">25</text>
<text x="498" y="106.9" font-size="14.5" text-anchor="middle" textLength="60" lengthAdjust="spacingAndGlyphs" fill="#2a2a2a" font-family="Liberation Serif, serif">Longitude</text>
<text x="499.3" y="216.5" font-size="14.5" text-anchor="middle" textLength="52" lengthAdjust="spacingAndGlyphs" fill="#2a2a2a" font-family="Liberation Serif, serif">Latitude</text>
<text x="500" y="323.7" font-size="14.5" text-anchor="middle" textLength="56.4" lengthAdjust="spacingAndGlyphs" fill="#2a2a2a" font-family="Liberation Serif, serif">Elevation</text>
<text x="425.5" y="350.4" font-size="20.5" text-anchor="middle" textLength="24.5" lengthAdjust="spacingAndGlyphs" fill="#2a2a2a" font-family="Liberation Serif, serif">(b)</text>
<text x="569.8" y="350.4" font-size="20.5" text-anchor="middle" textLength="23.5" lengthAdjust="spacingAndGlyphs" fill="#2a2a2a" font-family="Liberation Serif, serif">(c)</text>
<text x="653.1" y="10.0" font-size="8.8" text-anchor="middle" textLength="60.6" lengthAdjust="spacingAndGlyphs" fill="#2a2a2a" font-family="Liberation Serif, serif">Drainage region</text>
<rect x="641" y="16.3" width="14.8" height="8" fill="#7dfa9f" stroke="#555" stroke-width="0.5"/>
<text transform="translate(656.9 22.9) scale(1.1 1)" font-size="7.8" fill="#2a2a2a" font-family="Liberation Serif, serif">1</text>
<rect x="641" y="27.0" width="14.8" height="8" fill="#a0ffc0" stroke="#555" stroke-width="0.5"/>
<text transform="translate(656.9 33.6) scale(1.1 1)" font-size="7.8" fill="#2a2a2a" font-family="Liberation Serif, serif">2</text>
<rect x="641" y="37.7" width="14.8" height="8" fill="#3cb878" stroke="#555" stroke-width="0.5"/>
<text transform="translate(656.9 44.3) scale(1.1 1)" font-size="7.8" fill="#2a2a2a" font-family="Liberation Serif, serif">3</text>
<rect x="641" y="48.5" width="14.8" height="8" fill="#0aa52d" stroke="#555" stroke-width="0.5"/>
<text transform="translate(656.9 55.1) scale(1.1 1)" font-size="7.8" fill="#2a2a2a" font-family="Liberation Serif, serif">4</text>
<rect x="641" y="59.2" width="14.8" height="8" fill="#007d14" stroke="#555" stroke-width="0.5"/>
<text transform="translate(656.9 65.8) scale(1.1 1)" font-size="7.8" fill="#2a2a2a" font-family="Liberation Serif, serif">5</text>
<rect x="641" y="69.9" width="14.8" height="8" fill="#e8e8e8" stroke="#555" stroke-width="0.5"/>
<text transform="translate(656.9 76.5) scale(1.1 1)" font-size="7.8" fill="#2a2a2a" font-family="Liberation Serif, serif">6</text>
<rect x="641" y="80.6" width="14.8" height="8" fill="#c0c0c0" stroke="#555" stroke-width="0.5"/>
<text transform="translate(656.9 87.2) scale(1.1 1)" font-size="7.8" fill="#2a2a2a" font-family="Liberation Serif, serif">7</text>
<rect x="641" y="91.3" width="14.8" height="8" fill="#808080" stroke="#555" stroke-width="0.5"/>
<text transform="translate(656.9 97.9) scale(1.1 1)" font-size="7.8" fill="#2a2a2a" font-family="Liberation Serif, serif">8</text>
<rect x="641" y="102.1" width="14.8" height="8" fill="#555555" stroke="#555" stroke-width="0.5"/>
<text transform="translate(656.9 108.7) scale(1.1 1)" font-size="7.8" fill="#2a2a2a" font-family="Liberation Serif, serif">9</text>
<rect x="641" y="112.8" width="14.8" height="8" fill="#2d2d2d" stroke="#555" stroke-width="0.5"/>
<text transform="translate(656.9 119.4) scale(1.1 1)" font-size="7.8" fill="#2a2a2a" font-family="Liberation Serif, serif">10</text>
<rect x="641" y="123.5" width="14.8" height="8" fill="#f8e4b8" stroke="#555" stroke-width="0.5"/>
<text transform="translate(656.9 130.1) scale(1.1 1)" font-size="7.8" fill="#2a2a2a" font-family="Liberation Serif, serif">11</text>
<rect x="641" y="134.2" width="14.8" height="8" fill="#e4b47c" stroke="#555" stroke-width="0.5"/>
<text transform="translate(656.9 140.8) scale(1.1 1)" font-size="7.8" fill="#2a2a2a" font-family="Liberation Serif, serif">12</text>
<rect x="641" y="144.9" width="14.8" height="8" fill="#d4b080" stroke="#555" stroke-width="0.5"/>
<text transform="translate(656.9 151.5) scale(1.1 1)" font-size="7.8" fill="#2a2a2a" font-family="Liberation Serif, serif">13</text>
<rect x="641" y="155.7" width="14.8" height="8" fill="#b8562d" stroke="#555" stroke-width="0.5"/>
<text transform="translate(656.9 162.3) scale(1.1 1)" font-size="7.8" fill="#2a2a2a" font-family="Liberation Serif, serif">14</text>
<rect x="641" y="166.4" width="14.8" height="8" fill="#a0460f" stroke="#555" stroke-width="0.5"/>
<text transform="translate(656.9 173.0) scale(1.1 1)" font-size="7.8" fill="#2a2a2a" font-family="Liberation Serif, serif">15</text>
<rect x="641" y="177.1" width="14.8" height="8" fill="#ffb0b8" stroke="#555" stroke-width="0.5"/>
<text transform="translate(656.9 183.7) scale(1.1 1)" font-size="7.8" fill="#2a2a2a" font-family="Liberation Serif, serif">16</text>
<rect x="641" y="187.8" width="14.8" height="8" fill="#ff8c68" stroke="#555" stroke-width="0.5"/>
<text transform="translate(656.9 194.4) scale(1.1 1)" font-size="7.8" fill="#2a2a2a" font-family="Liberation Serif, serif">17</text>
<rect x="641" y="198.5" width="14.8" height="8" fill="#ff1e3c" stroke="#555" stroke-width="0.5"/>
<text transform="translate(656.9 205.1) scale(1.1 1)" font-size="7.8" fill="#2a2a2a" font-family="Liberation Serif, serif">18</text>
<rect x="641" y="209.3" width="14.8" height="8" fill="#d22820" stroke="#555" stroke-width="0.5"/>
<text transform="translate(656.9 215.9) scale(1.1 1)" font-size="7.8" fill="#2a2a2a" font-family="Liberation Serif, serif">19</text>
<rect x="641" y="220.0" width="14.8" height="8" fill="#9c1410" stroke="#555" stroke-width="0.5"/>
<text transform="translate(656.9 226.6) scale(1.1 1)" font-size="7.8" fill="#2a2a2a" font-family="Liberation Serif, serif">20</text>
<rect x="641" y="230.7" width="14.8" height="8" fill="#aee6fa" stroke="#555" stroke-width="0.5"/>
<text transform="translate(656.9 237.3) scale(1.1 1)" font-size="7.8" fill="#2a2a2a" font-family="Liberation Serif, serif">21</text>
<rect x="641" y="241.4" width="14.8" height="8" fill="#78e0e8" stroke="#555" stroke-width="0.5"/>
<text transform="translate(656.9 248.0) scale(1.1 1)" font-size="7.8" fill="#2a2a2a" font-family="Liberation Serif, serif">22</text>
<rect x="641" y="252.1" width="14.8" height="8" fill="#2d96f5" stroke="#555" stroke-width="0.5"/>
<text transform="translate(656.9 258.7) scale(1.1 1)" font-size="7.8" fill="#2a2a2a" font-family="Liberation Serif, serif">23</text>
<rect x="641" y="262.9" width="14.8" height="8" fill="#2800ff" stroke="#555" stroke-width="0.5"/>
<text transform="translate(656.9 269.5) scale(1.1 1)" font-size="7.8" fill="#2a2a2a" font-family="Liberation Serif, serif">24</text>
<rect x="641" y="273.6" width="14.8" height="8" fill="#1400aa" stroke="#555" stroke-width="0.5"/>
<text transform="translate(656.9 280.2) scale(1.1 1)" font-size="7.8" fill="#2a2a2a" font-family="Liberation Serif, serif">25</text>
</svg>
</body></html>
